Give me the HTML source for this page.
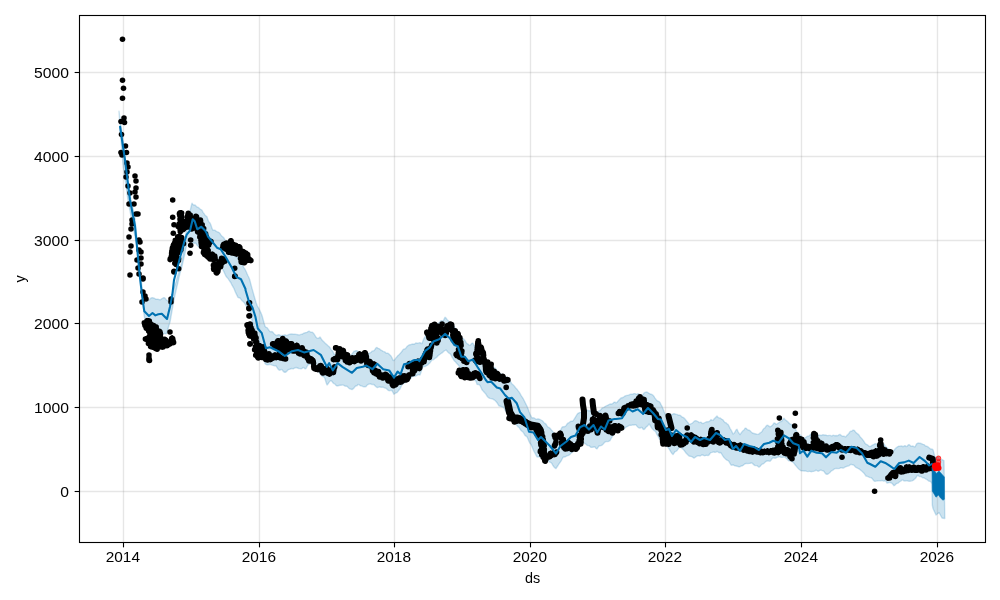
<!DOCTYPE html><html><head><meta charset="utf-8"><style>html,body{margin:0;padding:0;background:#fff;overflow:hidden}svg{display:block;will-change:transform}</style></head><body>
<svg width="1000" height="600" viewBox="0 0 1000 600" font-family="'Liberation Sans', sans-serif">
<rect width="1000" height="600" fill="#fff"/>
<polygon points="119.0,111.3 120.0,119.3 121.0,126.5 122.0,133.2 123.0,140.2 124.0,147.8 125.0,156.5 126.0,165.1 127.0,173.1 128.0,181.3 129.0,190.3 130.0,195.1 131.0,199.6 132.0,204.0 133.0,208.6 134.0,213.6 135.0,218.4 136.0,229.1 137.0,240.0 138.0,251.1 139.0,261.4 140.0,269.7 141.0,278.7 142.0,286.9 143.0,294.8 144.0,297.5 145.0,300.1 146.0,300.7 147.0,300.1 148.0,300.2 149.0,300.0 150.0,298.9 151.0,298.0 152.0,297.8 153.0,297.8 154.0,298.1 155.0,298.7 156.0,299.3 157.0,299.1 158.0,299.2 159.0,299.6 160.0,299.8 161.0,299.4 162.0,298.5 163.0,298.0 164.0,297.6 165.0,298.1 166.0,299.4 167.0,300.4 168.0,301.0 169.0,301.6 170.0,299.4 171.0,296.9 172.0,294.5 173.0,291.2 174.0,287.8 175.0,285.1 176.0,282.0 177.0,278.1 178.0,275.0 179.0,272.1 180.0,268.9 181.0,265.3 182.0,262.0 183.0,254.5 184.0,246.8 185.0,239.5 186.0,232.2 187.0,226.4 188.0,220.8 189.0,215.5 190.0,211.4 191.0,207.0 192.0,203.2 193.0,204.6 194.0,205.0 195.0,204.9 196.0,206.0 197.0,207.0 198.0,207.2 199.0,208.0 200.0,209.0 201.0,209.6 202.0,210.3 203.0,212.4 204.0,213.5 205.0,215.2 206.0,216.0 207.0,216.8 208.0,220.1 209.0,222.0 210.0,222.9 211.0,225.2 212.0,228.4 213.0,230.3 214.0,230.3 215.0,230.3 216.0,231.1 217.0,231.7 218.0,232.0 219.0,232.6 220.0,233.6 221.0,235.1 222.0,236.2 223.0,237.1 224.0,238.1 225.0,240.0 226.0,242.0 227.0,242.9 228.0,244.0 229.0,246.2 230.0,248.2 231.0,249.7 232.0,250.4 233.0,250.9 234.0,252.4 235.0,255.1 236.0,256.9 237.0,257.1 238.0,258.1 239.0,259.8 240.0,261.0 241.0,262.4 242.0,264.1 243.0,266.0 244.0,267.8 245.0,269.2 246.0,271.2 247.0,273.6 248.0,275.8 249.0,277.7 250.0,280.6 251.0,284.8 252.0,288.4 253.0,291.9 254.0,295.5 255.0,299.0 256.0,302.3 257.0,305.2 258.0,307.1 259.0,308.8 260.0,310.9 261.0,313.1 262.0,315.5 263.0,319.0 264.0,322.8 265.0,326.2 266.0,327.3 267.0,327.6 268.0,328.9 269.0,330.4 270.0,331.5 271.0,331.7 272.0,331.5 273.0,332.3 274.0,333.7 275.0,334.5 276.0,335.3 277.0,335.5 278.0,334.7 279.0,334.7 280.0,335.2 281.0,335.4 282.0,335.5 283.0,335.5 284.0,335.1 285.0,334.8 286.0,335.2 287.0,335.5 288.0,334.9 289.0,334.4 290.0,334.1 291.0,334.0 292.0,334.0 293.0,334.1 294.0,334.2 295.0,334.2 296.0,334.4 297.0,334.5 298.0,334.8 299.0,334.9 300.0,334.7 301.0,334.4 302.0,334.3 303.0,333.7 304.0,333.1 305.0,332.8 306.0,332.6 307.0,332.3 308.0,331.6 309.0,331.2 310.0,331.7 311.0,332.4 312.0,332.1 313.0,332.8 314.0,333.9 315.0,335.5 316.0,337.2 317.0,338.1 318.0,338.4 319.0,338.0 320.0,337.0 321.0,338.5 322.0,340.1 323.0,341.0 324.0,341.9 325.0,343.0 326.0,343.9 327.0,344.7 328.0,345.7 329.0,346.5 330.0,347.7 331.0,349.4 332.0,350.5 333.0,351.8 334.0,354.1 335.0,354.8 336.0,354.3 337.0,353.6 338.0,353.4 339.0,353.1 340.0,353.0 341.0,352.5 342.0,351.9 343.0,352.0 344.0,352.3 345.0,352.3 346.0,352.4 347.0,352.7 348.0,353.6 349.0,355.1 350.0,355.8 351.0,355.1 352.0,354.1 353.0,352.6 354.0,351.2 355.0,351.0 356.0,350.6 357.0,350.8 358.0,351.6 359.0,352.1 360.0,351.9 361.0,352.2 362.0,353.2 363.0,354.0 364.0,354.8 365.0,355.4 366.0,355.1 367.0,354.0 368.0,353.6 369.0,353.4 370.0,352.9 371.0,352.2 372.0,351.2 373.0,350.9 374.0,350.6 375.0,349.3 376.0,347.8 377.0,347.4 378.0,348.3 379.0,348.6 380.0,349.3 381.0,350.2 382.0,350.6 383.0,351.4 384.0,351.7 385.0,352.0 386.0,353.1 387.0,353.3 388.0,353.2 389.0,354.0 390.0,355.1 391.0,356.0 392.0,357.9 393.0,360.2 394.0,360.6 395.0,359.2 396.0,357.9 397.0,356.7 398.0,355.5 399.0,354.7 400.0,353.6 401.0,352.5 402.0,351.3 403.0,349.7 404.0,349.0 405.0,348.9 406.0,347.9 407.0,346.6 408.0,345.7 409.0,345.0 410.0,344.7 411.0,344.5 412.0,344.2 413.0,344.0 414.0,344.3 415.0,343.7 416.0,342.9 417.0,343.1 418.0,343.2 419.0,342.9 420.0,342.6 421.0,343.5 422.0,343.5 423.0,340.7 424.0,338.4 425.0,336.8 426.0,334.7 427.0,332.6 428.0,331.6 429.0,331.1 430.0,330.4 431.0,329.2 432.0,328.0 433.0,327.6 434.0,327.5 435.0,325.6 436.0,324.1 437.0,323.7 438.0,323.3 439.0,322.9 440.0,321.8 441.0,320.8 442.0,320.8 443.0,321.1 444.0,319.4 445.0,317.2 446.0,318.0 447.0,319.4 448.0,320.5 449.0,321.7 450.0,323.0 451.0,324.0 452.0,324.6 453.0,325.3 454.0,326.1 455.0,327.8 456.0,329.8 457.0,331.0 458.0,332.4 459.0,334.3 460.0,335.7 461.0,336.5 462.0,337.5 463.0,338.6 464.0,339.4 465.0,340.5 466.0,342.3 467.0,343.6 468.0,344.1 469.0,345.1 470.0,345.4 471.0,344.2 472.0,343.1 473.0,343.3 474.0,345.4 475.0,347.1 476.0,348.3 477.0,349.1 478.0,349.6 479.0,351.2 480.0,354.1 481.0,356.7 482.0,357.9 483.0,358.7 484.0,359.2 485.0,360.0 486.0,361.3 487.0,362.5 488.0,363.3 489.0,364.1 490.0,364.6 491.0,365.3 492.0,366.1 493.0,367.0 494.0,367.4 495.0,367.9 496.0,369.2 497.0,370.8 498.0,371.7 499.0,372.7 500.0,373.4 501.0,373.8 502.0,374.3 503.0,375.3 504.0,376.2 505.0,376.6 506.0,376.6 507.0,377.3 508.0,379.3 509.0,380.5 510.0,380.9 511.0,382.3 512.0,384.0 513.0,384.8 514.0,385.7 515.0,387.0 516.0,388.3 517.0,389.2 518.0,390.6 519.0,391.9 520.0,393.4 521.0,395.3 522.0,396.8 523.0,398.3 524.0,400.2 525.0,402.3 526.0,404.3 527.0,406.3 528.0,408.6 529.0,411.5 530.0,414.1 531.0,416.2 532.0,418.0 533.0,417.8 534.0,417.9 535.0,418.5 536.0,419.2 537.0,419.1 538.0,418.8 539.0,419.1 540.0,419.5 541.0,420.0 542.0,420.5 543.0,421.3 544.0,422.7 545.0,423.4 546.0,424.1 547.0,425.9 548.0,427.1 549.0,427.4 550.0,428.3 551.0,429.5 552.0,430.6 553.0,432.0 554.0,433.6 555.0,435.9 556.0,437.3 557.0,435.2 558.0,433.3 559.0,431.6 560.0,430.7 561.0,429.4 562.0,427.3 563.0,426.7 564.0,426.7 565.0,426.5 566.0,425.7 567.0,424.1 568.0,423.1 569.0,422.7 570.0,421.8 571.0,421.2 572.0,421.3 573.0,420.8 574.0,419.4 575.0,417.8 576.0,416.2 577.0,414.5 578.0,413.3 579.0,412.8 580.0,412.5 581.0,412.2 582.0,411.3 583.0,410.3 584.0,409.7 585.0,410.6 586.0,411.0 587.0,410.3 588.0,410.5 589.0,410.7 590.0,410.7 591.0,411.8 592.0,412.7 593.0,412.6 594.0,412.8 595.0,413.0 596.0,412.0 597.0,411.9 598.0,411.7 599.0,410.9 600.0,410.5 601.0,409.5 602.0,408.2 603.0,407.7 604.0,407.3 605.0,406.6 606.0,406.0 607.0,405.5 608.0,405.1 609.0,404.5 610.0,404.0 611.0,403.9 612.0,404.0 613.0,403.3 614.0,402.3 615.0,402.1 616.0,402.9 617.0,402.3 618.0,401.1 619.0,400.1 620.0,399.0 621.0,398.0 622.0,397.7 623.0,397.5 624.0,396.8 625.0,396.0 626.0,395.7 627.0,395.4 628.0,395.2 629.0,394.9 630.0,394.4 631.0,394.1 632.0,394.1 633.0,394.0 634.0,393.6 635.0,393.6 636.0,394.1 637.0,394.0 638.0,393.7 639.0,394.0 640.0,394.9 641.0,395.8 642.0,395.7 643.0,394.5 644.0,393.0 645.0,392.4 646.0,392.1 647.0,392.0 648.0,392.7 649.0,393.3 650.0,393.8 651.0,394.3 652.0,394.5 653.0,395.2 654.0,396.5 655.0,398.1 656.0,399.4 657.0,400.6 658.0,401.3 659.0,401.5 660.0,402.5 661.0,404.6 662.0,406.3 663.0,408.7 664.0,411.6 665.0,414.0 666.0,413.9 667.0,413.6 668.0,413.8 669.0,414.2 670.0,414.2 671.0,414.4 672.0,414.6 673.0,414.0 674.0,413.6 675.0,414.0 676.0,414.4 677.0,414.4 678.0,415.0 679.0,415.3 680.0,415.2 681.0,416.0 682.0,417.0 683.0,417.3 684.0,417.9 685.0,418.9 686.0,420.3 687.0,421.5 688.0,422.6 689.0,424.3 690.0,424.4 691.0,423.7 692.0,423.3 693.0,422.5 694.0,421.4 695.0,420.8 696.0,420.7 697.0,421.2 698.0,421.6 699.0,422.5 700.0,422.4 701.0,422.1 702.0,423.2 703.0,423.6 704.0,423.0 705.0,422.5 706.0,422.0 707.0,421.7 708.0,421.7 709.0,421.6 710.0,420.7 711.0,419.6 712.0,420.4 713.0,420.4 714.0,419.0 715.0,418.0 716.0,417.0 717.0,416.0 718.0,417.2 719.0,417.9 720.0,417.9 721.0,418.7 722.0,419.3 723.0,419.8 724.0,421.6 725.0,422.6 726.0,422.8 727.0,423.8 728.0,424.4 729.0,426.1 730.0,428.3 731.0,429.9 732.0,431.7 733.0,434.0 734.0,433.4 735.0,431.9 736.0,430.0 737.0,429.2 738.0,431.6 739.0,433.2 740.0,434.6 741.0,433.2 742.0,431.8 743.0,430.8 744.0,430.0 745.0,428.3 746.0,428.1 747.0,429.3 748.0,430.0 749.0,430.1 750.0,430.7 751.0,431.8 752.0,432.7 753.0,433.3 754.0,433.5 755.0,433.7 756.0,434.0 757.0,434.4 758.0,434.4 759.0,433.9 760.0,432.9 761.0,432.4 762.0,431.5 763.0,429.6 764.0,428.4 765.0,427.9 766.0,426.2 767.0,425.3 768.0,425.4 769.0,426.2 770.0,426.8 771.0,426.3 772.0,425.6 773.0,424.5 774.0,423.0 775.0,423.1 776.0,424.2 777.0,424.1 778.0,423.2 779.0,422.5 780.0,421.7 781.0,421.6 782.0,421.0 783.0,419.2 784.0,418.2 785.0,419.4 786.0,420.3 787.0,421.1 788.0,421.9 789.0,423.1 790.0,423.9 791.0,424.3 792.0,425.1 793.0,425.9 794.0,426.8 795.0,428.4 796.0,430.4 797.0,431.8 798.0,433.3 799.0,434.6 800.0,434.9 801.0,435.5 802.0,437.3 803.0,438.4 804.0,438.2 805.0,438.0 806.0,437.3 807.0,436.4 808.0,436.1 809.0,435.9 810.0,435.0 811.0,433.8 812.0,433.6 813.0,433.8 814.0,434.3 815.0,434.4 816.0,434.1 817.0,434.7 818.0,435.5 819.0,435.1 820.0,435.0 821.0,435.6 822.0,435.1 823.0,434.7 824.0,435.0 825.0,434.9 826.0,435.1 827.0,435.6 828.0,435.6 829.0,435.4 830.0,435.4 831.0,435.7 832.0,435.9 833.0,435.3 834.0,435.4 835.0,435.8 836.0,435.5 837.0,435.7 838.0,435.6 839.0,434.7 840.0,434.4 841.0,435.2 842.0,436.0 843.0,436.1 844.0,436.2 845.0,436.7 846.0,436.7 847.0,435.2 848.0,434.4 849.0,433.3 850.0,431.7 851.0,431.2 852.0,431.0 853.0,430.1 854.0,430.1 855.0,431.3 856.0,432.6 857.0,433.4 858.0,434.1 859.0,435.1 860.0,436.7 861.0,437.8 862.0,438.8 863.0,440.1 864.0,441.5 865.0,443.3 866.0,444.2 867.0,444.6 868.0,445.3 869.0,446.3 870.0,446.5 871.0,446.1 872.0,445.4 873.0,444.8 874.0,444.4 875.0,443.8 876.0,443.7 877.0,444.4 878.0,444.3 879.0,444.5 880.0,445.3 881.0,445.4 882.0,445.0 883.0,444.7 884.0,444.0 885.0,445.7 886.0,447.0 887.0,447.7 888.0,448.6 889.0,449.0 890.0,449.9 891.0,451.3 892.0,452.5 893.0,451.6 894.0,450.3 895.0,448.9 896.0,447.9 897.0,447.2 898.0,446.6 899.0,446.1 900.0,446.4 901.0,445.9 902.0,446.0 903.0,446.8 904.0,446.1 905.0,445.6 906.0,446.5 907.0,446.4 908.0,445.1 909.0,444.5 910.0,445.3 911.0,446.3 912.0,446.2 913.0,446.0 914.0,446.7 915.0,446.8 916.0,445.0 917.0,443.5 918.0,443.0 919.0,443.2 920.0,443.3 921.0,443.5 922.0,443.9 923.0,444.3 924.0,444.6 925.0,445.6 926.0,446.1 927.0,446.2 928.0,446.9 929.0,447.7 930.0,448.6 931.0,449.1 932.0,449.0 933.0,449.7 934.0,453.5 935.0,457.3 936.0,458.1 937.0,457.3 938.0,456.8 939.0,458.2 940.0,459.8 941.0,459.8 942.0,459.6 943.0,460.1 944.0,460.8 944.8,518.5 942.0,518.0 939.0,512.5 936.0,515.0 933.0,508.5 932.3,505.0 932.0,484.0 931.0,481.9 930.0,481.3 929.0,481.2 928.0,480.5 927.0,479.6 926.0,479.1 925.0,478.5 924.0,477.9 923.0,477.8 922.0,477.3 921.0,476.5 920.0,476.6 919.0,476.3 918.0,475.3 917.0,475.9 916.0,477.7 915.0,478.8 914.0,479.6 913.0,480.4 912.0,480.8 911.0,481.1 910.0,481.2 909.0,481.2 908.0,481.1 907.0,480.7 906.0,480.6 905.0,481.1 904.0,480.9 903.0,480.1 902.0,480.1 901.0,481.0 900.0,481.5 899.0,482.3 898.0,483.1 897.0,483.4 896.0,483.9 895.0,485.2 894.0,485.7 893.0,484.5 892.0,483.3 891.0,482.9 890.0,482.5 889.0,482.4 888.0,483.0 887.0,483.0 886.0,481.6 885.0,480.7 884.0,481.2 883.0,480.9 882.0,480.4 881.0,480.8 880.0,480.8 879.0,480.6 878.0,480.7 877.0,481.0 876.0,481.1 875.0,481.4 874.0,480.9 873.0,479.7 872.0,478.4 871.0,477.6 870.0,477.5 869.0,477.2 868.0,476.6 867.0,476.3 866.0,476.1 865.0,474.6 864.0,473.2 863.0,472.2 862.0,471.2 861.0,470.5 860.0,469.6 859.0,468.9 858.0,468.4 857.0,467.8 856.0,467.4 855.0,466.5 854.0,465.3 853.0,464.8 852.0,464.7 851.0,464.3 850.0,464.9 849.0,465.8 848.0,466.1 847.0,466.3 846.0,466.7 845.0,467.1 844.0,467.8 843.0,468.2 842.0,467.8 841.0,467.7 840.0,468.2 839.0,468.5 838.0,468.6 837.0,468.5 836.0,468.5 835.0,468.6 834.0,469.2 833.0,470.1 832.0,470.6 831.0,471.3 830.0,472.4 829.0,473.3 828.0,474.0 827.0,474.4 826.0,474.0 825.0,473.0 824.0,471.4 823.0,470.7 822.0,470.6 821.0,470.1 820.0,470.2 819.0,470.9 818.0,471.3 817.0,470.6 816.0,470.2 815.0,470.8 814.0,471.2 813.0,471.4 812.0,471.5 811.0,471.7 810.0,471.4 809.0,471.3 808.0,471.6 807.0,471.4 806.0,471.1 805.0,470.9 804.0,471.0 803.0,470.9 802.0,470.8 801.0,470.7 800.0,470.0 799.0,469.2 798.0,468.3 797.0,467.1 796.0,465.9 795.0,464.7 794.0,463.3 793.0,462.3 792.0,461.7 791.0,461.1 790.0,460.9 789.0,460.9 788.0,460.1 787.0,458.9 786.0,458.1 785.0,457.3 784.0,456.9 783.0,457.2 782.0,457.4 781.0,457.4 780.0,456.8 779.0,456.9 778.0,457.1 777.0,457.4 776.0,458.0 775.0,458.2 774.0,458.0 773.0,457.9 772.0,458.7 771.0,460.3 770.0,461.3 769.0,461.1 768.0,460.9 767.0,461.0 766.0,461.4 765.0,462.2 764.0,463.2 763.0,463.9 762.0,464.2 761.0,465.2 760.0,466.5 759.0,467.2 758.0,466.5 757.0,465.6 756.0,465.6 755.0,465.6 754.0,464.9 753.0,463.9 752.0,463.1 751.0,463.0 750.0,463.4 749.0,463.4 748.0,463.6 747.0,463.5 746.0,463.4 745.0,463.9 744.0,464.5 743.0,465.4 742.0,466.0 741.0,466.0 740.0,466.7 739.0,466.9 738.0,466.5 737.0,466.2 736.0,466.0 735.0,465.9 734.0,465.4 733.0,464.6 732.0,465.3 731.0,465.0 730.0,463.3 729.0,461.6 728.0,460.6 727.0,460.2 726.0,459.4 725.0,458.5 724.0,457.5 723.0,456.2 722.0,454.5 721.0,452.9 720.0,452.5 719.0,452.7 718.0,452.0 717.0,451.3 716.0,452.1 715.0,452.4 714.0,452.0 713.0,452.1 712.0,452.4 711.0,452.6 710.0,453.5 709.0,455.0 708.0,455.6 707.0,455.3 706.0,455.4 705.0,455.7 704.0,455.5 703.0,455.2 702.0,454.9 701.0,455.5 700.0,456.1 699.0,455.9 698.0,455.9 697.0,456.1 696.0,456.7 695.0,457.5 694.0,458.1 693.0,457.4 692.0,456.7 691.0,456.4 690.0,456.3 689.0,456.0 688.0,455.1 687.0,454.0 686.0,453.1 685.0,451.7 684.0,450.2 683.0,449.3 682.0,448.5 681.0,447.1 680.0,446.6 679.0,447.8 678.0,449.2 677.0,450.6 676.0,451.3 675.0,451.7 674.0,453.2 673.0,454.6 672.0,453.5 671.0,452.2 670.0,450.4 669.0,448.7 668.0,447.5 667.0,445.8 666.0,444.1 665.0,443.2 664.0,443.0 663.0,442.2 662.0,440.6 661.0,439.9 660.0,439.8 659.0,438.1 658.0,436.2 657.0,434.7 656.0,432.4 655.0,431.0 654.0,430.6 653.0,429.4 652.0,428.4 651.0,426.9 650.0,425.1 649.0,424.1 648.0,425.4 647.0,426.4 646.0,427.2 645.0,428.7 644.0,429.6 643.0,429.2 642.0,427.4 641.0,427.5 640.0,428.2 639.0,427.9 638.0,427.2 637.0,426.2 636.0,424.9 635.0,424.7 634.0,425.1 633.0,424.9 632.0,425.1 631.0,425.4 630.0,425.2 629.0,425.5 628.0,426.2 627.0,426.7 626.0,427.2 625.0,428.0 624.0,428.9 623.0,429.0 622.0,428.7 621.0,429.3 620.0,430.5 619.0,431.3 618.0,431.6 617.0,431.7 616.0,432.3 615.0,433.2 614.0,433.8 613.0,435.3 612.0,437.1 611.0,438.7 610.0,440.6 609.0,441.2 608.0,441.5 607.0,441.6 606.0,441.5 605.0,442.1 604.0,443.1 603.0,444.3 602.0,445.2 601.0,445.6 600.0,445.8 599.0,446.0 598.0,447.4 597.0,448.9 596.0,448.4 595.0,447.0 594.0,446.9 593.0,447.2 592.0,447.3 591.0,447.4 590.0,446.4 589.0,445.6 588.0,445.6 587.0,445.2 586.0,444.2 585.0,443.6 584.0,443.0 583.0,442.9 582.0,444.5 581.0,445.1 580.0,445.7 579.0,447.3 578.0,448.7 577.0,449.0 576.0,449.1 575.0,449.5 574.0,450.4 573.0,451.6 572.0,452.4 571.0,453.3 570.0,454.4 569.0,455.2 568.0,455.5 567.0,455.7 566.0,456.4 565.0,457.0 564.0,456.9 563.0,457.4 562.0,459.3 561.0,461.2 560.0,462.5 559.0,463.9 558.0,465.5 557.0,467.0 556.0,468.6 555.0,467.9 554.0,467.0 553.0,465.7 552.0,463.8 551.0,462.6 550.0,462.2 549.0,461.8 548.0,460.6 547.0,459.5 546.0,459.4 545.0,459.7 544.0,459.6 543.0,459.0 542.0,458.5 541.0,458.0 540.0,457.2 539.0,456.7 538.0,457.1 537.0,456.9 536.0,455.1 535.0,453.1 534.0,451.5 533.0,449.2 532.0,446.6 531.0,444.5 530.0,443.3 529.0,441.5 528.0,439.1 527.0,436.8 526.0,436.1 525.0,435.4 524.0,433.6 523.0,432.1 522.0,431.2 521.0,430.4 520.0,429.0 519.0,427.4 518.0,426.8 517.0,425.5 516.0,424.1 515.0,423.0 514.0,421.6 513.0,420.6 512.0,419.6 511.0,418.2 510.0,416.5 509.0,414.9 508.0,413.6 507.0,412.3 506.0,411.4 505.0,409.9 504.0,407.8 503.0,407.2 502.0,406.9 501.0,406.2 500.0,406.2 499.0,405.9 498.0,404.3 497.0,402.7 496.0,401.5 495.0,400.5 494.0,399.8 493.0,399.2 492.0,398.8 491.0,398.6 490.0,398.4 489.0,398.0 488.0,397.3 487.0,396.0 486.0,394.3 485.0,393.1 484.0,392.0 483.0,390.9 482.0,389.7 481.0,387.5 480.0,385.4 479.0,384.5 478.0,384.5 477.0,384.4 476.0,381.2 475.0,380.6 474.0,379.3 473.0,378.2 472.0,377.4 471.0,376.5 470.0,375.5 469.0,374.8 468.0,374.0 467.0,373.4 466.0,372.4 465.0,371.2 464.0,370.0 463.0,369.4 462.0,368.6 461.0,367.6 460.0,367.1 459.0,366.1 458.0,364.7 457.0,363.8 456.0,362.5 455.0,361.4 454.0,360.5 453.0,358.7 452.0,357.1 451.0,355.0 450.0,353.7 449.0,353.1 448.0,352.3 447.0,351.0 446.0,350.0 445.0,350.5 444.0,351.1 443.0,352.1 442.0,352.9 441.0,353.5 440.0,354.3 439.0,355.0 438.0,355.8 437.0,357.0 436.0,357.8 435.0,358.3 434.0,359.3 433.0,359.8 432.0,360.1 431.0,361.4 430.0,362.8 429.0,363.8 428.0,364.8 427.0,365.4 426.0,366.0 425.0,366.6 424.0,366.4 423.0,366.7 422.0,368.7 421.0,372.2 420.0,375.1 419.0,374.7 418.0,374.7 417.0,375.4 416.0,375.9 415.0,376.3 414.0,376.3 413.0,376.0 412.0,376.8 411.0,378.2 410.0,379.0 409.0,379.3 408.0,379.6 407.0,380.4 406.0,381.7 405.0,382.9 404.0,383.2 403.0,383.7 402.0,384.7 401.0,386.8 400.0,389.1 399.0,390.0 398.0,391.4 397.0,392.5 396.0,392.9 395.0,393.5 394.0,394.3 393.0,392.5 392.0,390.7 391.0,390.3 390.0,390.6 389.0,390.7 388.0,390.2 387.0,389.1 386.0,388.3 385.0,388.1 384.0,387.7 383.0,387.1 382.0,387.2 381.0,387.2 380.0,387.0 379.0,387.0 378.0,387.5 377.0,387.5 376.0,386.8 375.0,385.8 374.0,384.7 373.0,384.3 372.0,384.6 371.0,384.0 370.0,383.8 369.0,384.1 368.0,384.5 367.0,385.3 366.0,386.5 365.0,386.8 364.0,386.8 363.0,386.6 362.0,386.1 361.0,385.9 360.0,385.5 359.0,384.6 358.0,384.5 357.0,385.7 356.0,385.9 355.0,386.6 354.0,388.0 353.0,388.9 352.0,389.6 351.0,389.2 350.0,388.9 349.0,388.3 348.0,387.3 347.0,386.2 346.0,386.2 345.0,386.1 344.0,385.4 343.0,385.1 342.0,385.1 341.0,385.3 340.0,385.3 339.0,385.5 338.0,385.7 337.0,386.0 336.0,385.4 335.0,384.1 334.0,383.6 333.0,382.9 332.0,381.4 331.0,380.7 330.0,381.1 329.0,382.4 328.0,384.0 327.0,384.9 326.0,382.3 325.0,378.7 324.0,377.0 323.0,376.7 322.0,375.9 321.0,375.2 320.0,373.7 319.0,371.9 318.0,371.5 317.0,371.6 316.0,370.5 315.0,369.3 314.0,368.5 313.0,367.5 312.0,365.7 311.0,364.3 310.0,364.1 309.0,364.6 308.0,364.9 307.0,366.6 306.0,368.5 305.0,368.9 304.0,367.8 303.0,367.4 302.0,368.5 301.0,368.8 300.0,368.6 299.0,368.5 298.0,368.3 297.0,367.7 296.0,367.5 295.0,367.8 294.0,368.4 293.0,369.0 292.0,368.5 291.0,368.7 290.0,369.2 289.0,369.4 288.0,369.9 287.0,371.1 286.0,372.0 285.0,372.4 284.0,372.0 283.0,371.0 282.0,369.6 281.0,369.5 280.0,370.2 279.0,370.1 278.0,369.1 277.0,367.4 276.0,366.0 275.0,365.6 274.0,365.7 273.0,365.4 272.0,365.1 271.0,364.6 270.0,364.3 269.0,364.5 268.0,364.8 267.0,364.8 266.0,364.4 265.0,363.4 264.0,359.9 263.0,355.2 262.0,351.2 261.0,348.0 260.0,344.6 259.0,341.0 258.0,337.9 257.0,335.3 256.0,332.4 255.0,329.1 254.0,326.4 253.0,323.7 252.0,320.4 251.0,315.5 250.0,310.6 249.0,309.0 248.0,308.0 247.0,307.1 246.0,305.7 245.0,304.0 244.0,302.4 243.0,301.4 242.0,300.7 241.0,299.3 240.0,298.0 239.0,297.8 238.0,297.4 237.0,295.4 236.0,293.4 235.0,291.2 234.0,288.6 233.0,286.8 232.0,285.2 231.0,283.0 230.0,281.5 229.0,280.1 228.0,278.5 227.0,277.5 226.0,276.3 225.0,274.3 224.0,271.9 223.0,270.0 222.0,268.4 221.0,266.6 220.0,265.1 219.0,264.7 218.0,264.7 217.0,263.7 216.0,261.9 215.0,260.6 214.0,260.2 213.0,259.8 212.0,258.9 211.0,257.8 210.0,256.8 209.0,256.1 208.0,255.4 207.0,254.6 206.0,253.4 205.0,252.6 204.0,251.9 203.0,250.9 202.0,249.7 201.0,248.4 200.0,247.6 199.0,246.8 198.0,246.0 197.0,245.2 196.0,243.4 195.0,243.0 194.0,243.3 193.0,242.7 192.0,241.7 191.0,241.9 190.0,241.6 189.0,240.4 188.0,239.3 187.0,243.0 186.0,247.9 185.0,253.2 184.0,257.6 183.0,261.9 182.0,266.3 181.0,269.8 180.0,273.3 179.0,277.6 178.0,282.2 177.0,286.4 176.0,290.6 175.0,295.1 174.0,300.1 173.0,305.4 172.0,310.9 171.0,316.6 170.0,322.1 169.0,325.2 168.0,328.7 167.0,332.6 166.0,333.9 165.0,333.5 164.0,333.6 163.0,333.6 162.0,333.6 161.0,333.9 160.0,333.8 159.0,333.6 158.0,333.8 157.0,334.3 156.0,334.5 155.0,334.1 154.0,333.4 153.0,333.1 152.0,333.4 151.0,333.3 150.0,333.1 149.0,332.7 148.0,329.2 147.0,326.1 146.0,322.7 145.0,320.1 144.0,314.5 143.0,301.9 142.0,289.9 141.0,280.3 140.0,270.6 139.0,261.1 138.0,250.9 137.0,245.6 136.0,240.9 135.0,236.7 134.0,231.8 133.0,226.9 132.0,222.1 131.0,216.5 130.0,210.9 129.0,205.8 128.0,200.6 127.0,193.0 126.0,185.4 125.0,178.5 124.0,172.0 123.0,165.0 122.0,152.4 121.0,140.1" fill="#0072B2" fill-opacity="0.2" stroke="#0072B2" stroke-opacity="0.2" stroke-width="1.39" stroke-linejoin="round"/>
<g stroke="#808080" stroke-opacity="0.2" stroke-width="1.39"><line x1="123.5" y1="15.5" x2="123.5" y2="542.5"/><line x1="259.5" y1="15.5" x2="259.5" y2="542.5"/><line x1="394.5" y1="15.5" x2="394.5" y2="542.5"/><line x1="530.5" y1="15.5" x2="530.5" y2="542.5"/><line x1="665.5" y1="15.5" x2="665.5" y2="542.5"/><line x1="801.5" y1="15.5" x2="801.5" y2="542.5"/><line x1="937.5" y1="15.5" x2="937.5" y2="542.5"/><line x1="79.5" y1="491.50" x2="985.5" y2="491.50"/><line x1="79.5" y1="407.50" x2="985.5" y2="407.50"/><line x1="79.5" y1="323.50" x2="985.5" y2="323.50"/><line x1="79.5" y1="240.50" x2="985.5" y2="240.50"/><line x1="79.5" y1="156.50" x2="985.5" y2="156.50"/><line x1="79.5" y1="72.50" x2="985.5" y2="72.50"/></g>
<path d="M144.3 322.7h0M144.5 322.8h0M144.7 323.9h0M144.9 324.9h0M145.0 325.6h0M145.2 324.6h0M145.4 324.0h0M145.4 339.0h0M145.6 324.5h0M145.6 339.1h0M145.8 326.6h0M145.8 339.2h0M146.0 327.3h0M146.0 339.2h0M146.2 328.1h0M146.2 339.2h0M146.3 328.2h0M146.3 339.4h0M146.5 327.5h0M146.5 339.5h0M146.7 323.6h0M146.7 339.5h0M146.9 321.0h0M146.9 339.3h0M147.1 320.7h0M147.1 339.0h0M147.3 320.7h0M147.3 338.8h0M147.5 320.7h0M147.5 338.8h0M147.6 320.7h0M147.6 338.3h0M147.8 320.8h0M147.8 338.1h0M148.0 321.7h0M148.0 327.0h0M148.2 323.3h0M148.2 327.7h0M148.4 326.2h0M148.4 343.6h0M148.6 331.0h0M148.6 325.9h0M148.8 337.6h0M148.8 339.8h0M148.9 340.6h0M148.9 323.8h0M149.1 340.9h0M149.1 330.6h0M149.3 339.9h0M149.3 321.0h0M149.5 337.9h0M149.5 323.1h0M149.7 336.4h0M149.7 322.9h0M149.9 333.4h0M149.9 342.4h0M150.1 333.0h0M150.1 324.3h0M150.2 335.0h0M150.2 335.4h0M150.4 334.5h0M150.4 323.7h0M150.6 332.0h0M150.6 346.6h0M150.8 329.4h0M150.8 336.1h0M151.0 325.7h0M151.0 344.2h0M151.2 324.6h0M151.2 326.9h0M151.4 325.4h0M151.4 342.4h0M151.5 326.5h0M151.5 343.0h0M151.7 326.5h0M151.7 338.9h0M151.9 327.7h0M151.9 336.9h0M152.1 331.5h0M152.1 336.8h0M152.3 335.7h0M152.3 327.7h0M152.5 343.3h0M152.5 343.8h0M152.7 346.7h0M152.7 331.2h0M152.8 347.2h0M152.8 346.4h0M153.0 347.1h0M153.0 346.2h0M153.2 346.6h0M153.2 345.0h0M153.4 345.1h0M153.4 344.5h0M153.6 339.7h0M153.6 325.6h0M153.8 332.3h0M153.8 328.7h0M154.0 330.3h0M154.0 335.5h0M154.1 330.0h0M154.1 328.9h0M154.3 328.6h0M154.3 336.0h0M154.5 328.5h0M154.5 338.8h0M154.7 329.7h0M154.7 333.8h0M154.9 332.9h0M154.9 347.9h0M155.1 336.2h0M155.1 347.9h0M155.3 338.5h0M155.3 338.2h0M155.4 339.6h0M155.4 339.9h0M155.6 341.6h0M155.6 348.6h0M155.8 343.4h0M155.8 326.7h0M156.0 345.9h0M156.0 337.5h0M156.2 347.8h0M156.2 327.1h0M156.4 348.4h0M156.4 328.7h0M156.6 348.6h0M156.6 334.6h0M156.7 348.8h0M156.7 334.0h0M156.9 349.1h0M156.9 344.8h0M157.1 349.2h0M157.1 344.2h0M157.3 348.5h0M157.5 347.9h0M157.7 347.8h0M157.9 347.0h0M158.0 344.2h0M158.2 339.9h0M158.4 340.5h0M158.6 341.9h0M158.8 337.0h0M159.0 332.3h0M159.2 331.7h0M159.3 331.4h0M159.5 331.5h0M159.7 331.5h0M159.9 331.9h0M160.1 332.6h0M160.3 333.0h0M160.5 334.2h0M160.6 337.2h0M160.8 342.4h0M161.0 345.9h0M161.2 346.7h0M161.4 346.9h0M161.6 346.9h0M161.8 346.6h0M161.9 344.7h0M162.1 343.5h0M162.3 346.3h0M162.5 347.1h0M162.7 346.9h0M162.9 346.8h0M163.1 346.9h0M163.2 346.6h0M163.4 344.9h0M163.6 343.1h0M163.8 342.5h0M164.0 340.8h0M164.2 339.5h0M164.4 339.7h0M164.5 339.7h0M164.7 339.2h0M164.9 339.6h0M165.1 340.7h0M165.3 341.4h0M165.5 340.1h0M165.7 340.1h0M165.8 341.9h0M166.0 342.4h0M166.2 343.0h0M166.4 344.9h0M166.6 345.5h0M166.8 345.6h0M167.0 345.7h0M167.1 345.5h0M167.3 345.4h0M167.5 345.1h0M167.7 345.0h0M167.9 345.0h0M168.1 344.8h0M168.3 344.7h0M168.4 344.1h0M168.6 342.7h0M168.8 341.8h0M169.0 342.7h0M169.2 344.0h0M169.4 344.2h0M169.6 343.9h0M169.7 343.6h0M169.9 343.7h0M170.1 259.6h0M170.1 343.8h0M170.3 258.9h0M170.3 343.8h0M170.5 258.9h0M170.5 343.6h0M170.7 258.2h0M170.7 343.1h0M170.9 258.4h0M170.9 342.6h0M171.0 258.4h0M171.0 342.5h0M171.2 258.2h0M171.2 342.2h0M171.4 256.1h0M171.4 340.4h0M171.6 253.2h0M171.6 338.8h0M171.8 251.4h0M171.8 338.3h0M172.0 251.2h0M172.0 338.2h0M172.2 250.0h0M172.2 338.4h0M172.3 248.5h0M172.3 338.3h0M172.5 247.9h0M172.5 338.6h0M172.7 248.4h0M172.7 338.7h0M172.9 248.1h0M172.9 339.8h0M173.1 246.8h0M173.1 341.2h0M173.3 245.5h0M173.3 342.0h0M173.5 245.3h0M173.5 342.0h0M173.6 244.9h0M173.6 342.6h0M173.8 245.4h0M174.0 245.3h0M174.2 244.8h0M174.4 243.6h0M174.4 243.5h0M174.6 243.1h0M174.6 246.3h0M174.8 243.7h0M174.8 263.3h0M174.9 247.4h0M174.9 243.6h0M175.1 252.5h0M175.1 259.4h0M175.3 255.7h0M175.3 240.4h0M175.5 256.0h0M175.5 246.7h0M175.7 255.0h0M175.7 242.3h0M175.9 257.1h0M175.9 243.4h0M176.1 259.3h0M176.1 264.4h0M176.2 259.0h0M176.2 258.3h0M176.4 258.1h0M176.4 249.0h0M176.6 260.0h0M176.6 250.6h0M176.8 260.6h0M176.8 257.1h0M177.0 259.7h0M177.0 260.3h0M177.2 260.3h0M177.2 240.4h0M177.4 260.4h0M177.4 259.8h0M177.5 259.3h0M177.5 258.6h0M177.7 259.4h0M177.7 236.7h0M177.9 260.0h0M177.9 253.0h0M178.1 226.6h0M178.1 260.7h0M178.1 247.4h0M178.3 226.5h0M178.3 260.6h0M178.3 244.4h0M178.5 226.5h0M178.5 260.6h0M178.5 247.1h0M178.7 226.7h0M178.7 258.8h0M178.7 245.2h0M178.8 226.7h0M178.8 252.4h0M178.8 243.7h0M179.0 224.9h0M179.0 242.7h0M179.0 238.9h0M179.2 223.8h0M179.2 238.3h0M179.2 237.6h0M179.4 213.7h0M179.4 236.9h0M179.4 238.2h0M179.6 213.3h0M179.6 236.5h0M179.6 252.1h0M179.8 214.3h0M179.8 215.6h0M179.8 244.5h0M180.0 214.4h0M180.0 219.2h0M180.0 213.6h0M180.1 215.3h0M180.1 212.7h0M180.1 229.7h0M180.3 217.4h0M180.3 243.4h0M180.3 231.7h0M180.5 218.4h0M180.5 245.2h0M180.7 219.1h0M180.7 245.5h0M180.9 220.0h0M180.9 249.8h0M181.1 218.5h0M181.1 220.3h0M181.3 214.1h0M181.3 247.2h0M181.4 213.0h0M181.4 226.8h0M181.6 213.1h0M181.6 237.6h0M181.8 216.7h0M181.8 223.7h0M182.0 220.5h0M182.0 241.0h0M182.2 225.5h0M182.2 243.4h0M182.4 227.4h0M182.4 243.9h0M182.6 229.0h0M182.6 244.0h0M182.7 229.8h0M182.7 244.1h0M182.9 229.8h0M182.9 243.2h0M183.1 229.6h0M183.1 243.4h0M183.3 229.3h0M183.3 243.8h0M183.5 229.2h0M183.5 243.8h0M183.7 228.9h0M183.9 228.5h0M184.0 227.9h0M184.2 226.8h0M184.4 225.9h0M184.6 224.7h0M184.8 223.9h0M185.0 225.0h0M185.2 225.3h0M185.3 224.4h0M185.5 224.4h0M185.7 225.1h0M185.9 225.3h0M186.1 225.7h0M186.3 226.4h0M186.5 226.9h0M186.6 227.3h0M186.8 227.0h0M187.0 224.5h0M187.2 220.0h0M187.4 217.5h0M187.6 216.6h0M187.8 215.6h0M187.9 214.9h0M188.1 214.1h0M188.3 213.2h0M188.5 213.9h0M188.7 215.8h0M188.9 217.8h0M189.1 220.1h0M189.2 222.8h0M189.4 224.5h0M189.6 224.2h0M189.8 221.0h0M190.0 216.7h0M190.2 215.0h0M190.4 216.8h0M190.5 221.0h0M190.7 224.0h0M190.9 226.3h0M191.1 227.7h0M191.3 228.4h0M191.5 228.9h0M191.7 228.9h0M191.8 228.2h0M192.0 226.1h0M192.2 222.8h0M192.4 221.3h0M192.6 223.2h0M192.8 224.1h0M193.0 224.4h0M193.1 225.1h0M193.3 223.7h0M193.5 220.5h0M193.7 218.4h0M193.9 218.3h0M194.1 219.4h0M194.3 220.9h0M194.4 224.6h0M194.6 227.1h0M194.8 227.1h0M195.0 227.6h0M195.2 228.0h0M195.4 226.5h0M195.6 221.5h0M195.7 217.2h0M195.9 216.4h0M196.1 216.6h0M196.3 216.6h0M196.5 216.7h0M196.7 217.9h0M196.9 220.9h0M197.0 225.3h0M197.2 228.0h0M197.4 230.6h0M197.6 231.7h0M197.8 232.0h0M198.0 232.1h0M198.2 231.9h0M198.3 231.9h0M198.5 232.3h0M198.7 231.7h0M198.9 229.5h0M199.1 226.0h0M199.3 224.4h0M199.5 224.2h0M199.6 226.4h0M199.8 231.7h0M199.8 237.0h0M200.0 235.1h0M200.0 221.3h0M200.2 234.8h0M200.2 227.5h0M200.4 235.9h0M200.4 220.1h0M200.6 236.8h0M200.6 221.1h0M200.8 237.9h0M200.8 228.3h0M200.9 240.0h0M200.9 236.3h0M201.1 242.5h0M201.1 239.9h0M201.3 243.7h0M201.3 236.5h0M201.5 244.2h0M201.5 246.4h0M201.7 240.5h0M201.7 244.5h0M201.9 237.7h0M201.9 245.2h0M202.1 242.4h0M202.1 246.2h0M202.2 245.6h0M202.2 224.9h0M202.4 246.9h0M202.4 244.9h0M202.6 246.0h0M202.6 236.7h0M202.8 242.7h0M202.8 233.4h0M203.0 235.5h0M203.0 242.7h0M203.2 232.4h0M203.2 239.1h0M203.4 233.8h0M203.4 252.5h0M203.5 237.7h0M203.5 246.5h0M203.7 242.5h0M203.7 228.6h0M203.9 247.0h0M203.9 250.4h0M204.1 246.0h0M204.1 253.6h0M204.3 240.7h0M204.3 243.0h0M204.5 241.2h0M204.5 241.7h0M204.7 246.5h0M204.7 254.6h0M204.8 246.5h0M204.8 252.1h0M205.0 244.6h0M205.0 252.5h0M205.2 249.6h0M205.2 243.1h0M205.4 252.9h0M205.4 235.1h0M205.6 253.6h0M205.6 233.7h0M205.8 254.0h0M205.8 247.9h0M206.0 253.8h0M206.0 252.1h0M206.1 253.8h0M206.1 247.9h0M206.3 253.6h0M206.3 236.5h0M206.5 253.2h0M206.5 237.4h0M206.7 251.0h0M206.7 255.1h0M206.9 246.6h0M206.9 250.9h0M207.1 243.9h0M207.1 254.2h0M207.3 244.3h0M207.4 244.2h0M207.6 241.8h0M207.8 240.5h0M208.0 243.2h0M208.2 250.5h0M208.4 255.1h0M208.6 245.0h0M208.6 257.5h0M208.7 244.9h0M208.7 257.3h0M208.9 244.0h0M208.9 257.4h0M209.1 243.3h0M209.1 257.2h0M209.3 243.0h0M209.3 257.9h0M209.5 243.1h0M209.5 258.2h0M209.7 242.4h0M209.7 258.0h0M209.9 242.0h0M209.9 258.2h0M210.0 241.9h0M210.0 258.9h0M210.2 241.9h0M210.2 258.3h0M210.4 241.8h0M210.4 257.3h0M210.6 241.6h0M210.6 256.2h0M210.8 241.5h0M210.8 255.7h0M211.0 241.5h0M211.0 255.5h0M211.2 256.4h0M211.3 256.4h0M211.5 256.4h0M211.7 256.4h0M211.9 255.6h0M212.1 254.4h0M212.3 254.4h0M212.5 254.5h0M212.6 254.8h0M212.8 255.2h0M213.0 256.3h0M213.2 259.5h0M213.4 265.2h0M213.6 268.5h0M213.8 269.4h0M213.9 268.2h0M214.1 264.1h0M214.3 258.8h0M214.5 256.4h0M214.7 256.0h0M214.9 256.9h0M215.1 258.2h0M215.2 263.7h0M215.4 270.2h0M215.6 270.5h0M215.8 269.7h0M216.0 271.4h0M216.2 272.5h0M216.4 272.6h0M216.5 272.6h0M216.7 272.9h0M216.9 272.7h0M217.1 272.4h0M217.3 272.2h0M217.5 272.1h0M217.7 271.8h0M217.8 271.4h0M218.0 270.5h0M218.2 269.0h0M218.4 267.8h0M218.6 266.3h0M218.8 263.8h0M219.0 261.9h0M219.1 263.0h0M219.3 265.2h0M219.5 264.6h0M219.7 263.0h0M219.9 263.1h0M220.1 264.0h0M220.3 265.0h0M220.4 266.4h0M220.6 266.7h0M220.8 266.0h0M221.0 263.6h0M221.2 261.2h0M221.4 259.3h0M221.6 258.4h0M221.7 258.7h0M221.9 260.8h0M222.1 262.9h0M222.3 262.4h0M222.5 261.0h0M222.7 247.8h0M222.7 259.4h0M222.9 247.5h0M222.9 258.8h0M223.0 245.7h0M223.0 258.7h0M223.2 245.8h0M223.2 258.9h0M223.4 245.1h0M223.4 259.3h0M223.6 244.7h0M223.6 259.3h0M223.8 244.4h0M223.8 259.8h0M224.0 244.4h0M224.0 259.8h0M224.2 244.6h0M224.2 260.8h0M224.3 244.8h0M224.3 260.9h0M224.5 244.4h0M224.5 261.1h0M224.7 244.8h0M224.7 261.1h0M224.9 246.2h0M224.9 261.2h0M225.1 247.4h0M225.3 248.6h0M225.5 248.8h0M225.6 249.1h0M225.8 248.9h0M226.0 245.6h0M226.2 243.9h0M226.4 243.4h0M226.6 243.1h0M226.8 244.1h0M226.9 245.7h0M227.1 246.3h0M227.3 246.9h0M227.5 246.5h0M227.7 245.9h0M227.9 246.9h0M228.1 248.5h0M228.2 250.2h0M228.4 251.6h0M228.6 252.2h0M228.8 249.7h0M229.0 245.9h0M229.2 245.8h0M229.4 247.8h0M229.5 247.9h0M229.7 248.1h0M229.9 247.2h0M230.1 244.6h0M230.3 243.8h0M230.5 242.9h0M230.7 241.3h0M230.8 240.9h0M231.0 240.7h0M231.2 241.2h0M231.4 243.3h0M231.6 249.6h0M231.8 252.9h0M232.0 252.8h0M232.1 252.9h0M232.3 249.5h0M232.5 246.8h0M232.7 245.9h0M232.9 244.9h0M233.1 244.4h0M233.3 245.6h0M233.4 250.3h0M233.6 252.6h0M233.8 250.0h0M234.0 248.4h0M234.2 248.0h0M234.4 249.6h0M234.6 253.5h0M234.7 250.9h0M234.9 247.0h0M235.1 246.8h0M235.3 246.9h0M235.5 246.0h0M235.7 245.3h0M235.9 245.8h0M236.0 246.9h0M236.2 250.3h0M236.4 254.0h0M236.6 254.1h0M236.8 253.1h0M237.0 251.9h0M237.2 251.8h0M237.3 251.3h0M237.5 251.4h0M237.7 251.1h0M237.9 250.1h0M238.1 250.6h0M238.3 253.0h0M238.5 253.7h0M238.6 249.3h0M238.8 246.9h0M239.0 246.8h0M239.2 246.8h0M239.4 247.0h0M239.6 247.3h0M239.8 247.6h0M239.9 247.9h0M240.1 249.8h0M240.3 254.1h0M240.5 258.6h0M240.7 258.7h0M240.9 259.0h0M241.1 261.3h0M241.2 262.1h0M241.4 262.2h0M241.6 262.0h0M241.8 260.5h0M242.0 258.3h0M242.2 256.6h0M242.4 255.2h0M242.5 253.9h0M242.7 252.6h0M242.9 251.7h0M243.1 251.6h0M243.3 254.3h0M243.5 260.1h0M243.7 262.1h0M243.8 262.6h0M244.0 262.8h0M244.2 262.8h0M244.4 262.7h0M244.6 262.5h0M244.8 262.2h0M245.0 260.3h0M245.1 255.0h0M245.3 253.1h0M245.5 253.0h0M245.7 253.0h0M245.9 253.4h0M246.1 253.6h0M246.3 253.8h0M246.4 254.0h0M246.6 254.4h0M246.8 254.2h0M247.0 254.3h0M247.0 325.1h0M247.2 254.3h0M247.2 325.0h0M247.4 254.6h0M247.4 324.8h0M247.6 254.6h0M247.6 324.9h0M247.7 254.8h0M247.7 325.1h0M247.9 256.6h0M247.9 326.6h0M248.1 259.4h0M248.1 330.5h0M248.3 260.1h0M248.3 332.4h0M248.5 260.2h0M248.5 332.6h0M248.7 260.0h0M248.7 333.4h0M248.9 259.8h0M248.9 334.0h0M249.0 259.5h0M249.0 334.3h0M249.2 259.4h0M249.2 332.9h0M249.4 259.2h0M249.4 330.6h0M249.6 259.6h0M249.6 328.2h0M249.8 259.9h0M249.8 326.8h0M250.0 259.9h0M250.0 326.5h0M250.2 260.0h0M250.2 327.3h0M250.3 260.2h0M250.3 327.9h0M250.5 260.5h0M250.5 328.8h0M250.7 260.5h0M250.7 328.8h0M250.9 260.6h0M250.9 327.7h0M251.1 327.8h0M251.3 329.0h0M251.5 330.2h0M251.6 330.2h0M251.8 330.9h0M252.0 331.5h0M252.2 330.4h0M252.4 331.8h0M252.6 334.4h0M252.8 333.9h0M252.9 332.6h0M253.1 333.1h0M253.3 334.8h0M253.5 337.6h0M253.7 339.3h0M253.9 337.0h0M254.1 333.3h0M254.2 333.0h0M254.4 334.6h0M254.6 334.1h0M254.6 349.8h0M254.8 334.0h0M254.8 333.3h0M255.0 335.9h0M255.0 335.3h0M255.2 339.7h0M255.2 338.7h0M255.4 341.2h0M255.4 346.7h0M255.5 341.8h0M255.5 341.4h0M255.7 340.1h0M255.7 355.2h0M255.9 337.5h0M255.9 355.0h0M256.1 338.0h0M256.1 349.8h0M256.3 341.5h0M256.3 351.5h0M256.5 344.1h0M256.5 347.6h0M256.7 342.6h0M256.7 345.7h0M256.8 345.5h0M256.8 355.8h0M257.0 352.2h0M257.2 355.4h0M257.4 356.8h0M257.6 357.1h0M257.8 357.1h0M258.0 357.5h0M258.1 357.8h0M258.3 357.9h0M258.5 357.8h0M258.7 357.5h0M258.9 356.1h0M259.1 352.2h0M259.3 348.3h0M259.4 345.6h0M259.6 345.9h0M259.8 347.1h0M260.0 349.0h0M260.2 349.8h0M260.4 351.1h0M260.6 354.1h0M260.7 355.3h0M260.9 355.0h0M261.1 355.6h0M261.3 356.0h0M261.5 356.5h0M261.7 357.0h0M261.9 357.3h0M262.0 357.4h0M262.2 356.5h0M262.4 350.8h0M262.6 347.4h0M262.8 347.0h0M263.0 346.9h0M263.2 347.0h0M263.3 347.3h0M263.5 347.8h0M263.7 347.8h0M263.9 348.2h0M264.1 349.5h0M264.3 351.3h0M264.5 351.7h0M264.6 351.6h0M264.8 353.2h0M265.0 355.6h0M265.2 356.6h0M265.4 357.9h0M265.6 359.0h0M265.8 359.4h0M265.9 359.4h0M266.1 359.4h0M266.3 359.5h0M266.5 359.8h0M266.7 359.8h0M266.9 359.4h0M267.1 359.1h0M267.2 359.6h0M267.4 360.0h0M267.6 359.9h0M267.8 359.7h0M268.0 358.6h0M268.2 357.5h0M268.4 357.6h0M268.5 357.8h0M268.7 355.4h0M268.9 353.8h0M269.1 354.0h0M269.3 355.6h0M269.5 357.3h0M269.7 358.1h0M269.8 358.9h0M270.0 359.5h0M270.2 359.6h0M270.4 359.4h0M270.6 359.4h0M270.8 359.1h0M271.0 359.0h0M271.1 358.9h0M271.3 358.7h0M271.5 358.6h0M271.7 358.6h0M271.9 358.4h0M272.1 358.4h0M272.3 357.9h0M272.4 356.9h0M272.6 344.0h0M272.6 356.4h0M272.8 343.9h0M272.8 356.3h0M273.0 343.9h0M273.0 356.1h0M273.2 343.9h0M273.2 355.9h0M273.4 344.0h0M273.4 355.7h0M273.6 344.0h0M273.6 355.9h0M273.7 344.0h0M273.7 356.2h0M273.9 344.1h0M273.9 356.4h0M274.1 345.7h0M274.1 357.1h0M274.3 346.0h0M274.3 357.6h0M274.5 346.0h0M274.5 357.4h0M274.7 345.4h0M274.7 356.1h0M274.9 344.5h0M274.9 355.0h0M275.0 344.2h0M275.0 355.0h0M275.2 344.5h0M275.2 355.3h0M275.4 345.5h0M275.4 356.5h0M275.6 346.1h0M275.6 357.2h0M275.8 346.4h0M275.8 357.3h0M276.0 346.5h0M276.0 357.4h0M276.2 347.0h0M276.2 357.6h0M276.3 347.0h0M276.3 357.6h0M276.5 346.8h0M276.5 357.4h0M276.7 346.0h0M276.7 357.0h0M276.9 344.3h0M276.9 356.0h0M277.1 342.3h0M277.1 355.3h0M277.3 341.7h0M277.3 355.1h0M277.5 341.6h0M277.5 355.1h0M277.6 341.5h0M277.6 355.1h0M277.8 341.2h0M277.8 355.1h0M278.0 340.9h0M278.0 355.3h0M278.2 341.2h0M278.2 355.4h0M278.4 341.4h0M278.4 355.6h0M278.6 340.9h0M278.6 355.5h0M278.8 340.9h0M278.8 355.5h0M278.9 341.8h0M278.9 355.8h0M279.1 342.0h0M279.1 356.1h0M279.3 343.8h0M279.5 348.6h0M279.7 351.8h0M279.9 350.9h0M280.1 349.5h0M280.2 349.4h0M280.4 346.7h0M280.4 357.9h0M280.6 347.9h0M280.6 357.9h0M280.8 347.7h0M280.8 358.0h0M281.0 345.7h0M281.0 358.0h0M281.2 343.0h0M281.2 358.0h0M281.4 341.2h0M281.4 358.0h0M281.5 340.8h0M281.5 358.1h0M281.7 342.4h0M281.7 358.1h0M281.9 343.3h0M281.9 358.1h0M282.1 343.3h0M282.1 358.2h0M282.3 343.3h0M282.3 358.2h0M282.5 340.5h0M282.5 358.2h0M282.7 338.6h0M282.7 358.2h0M282.8 338.7h0M282.8 358.4h0M283.0 339.0h0M283.0 358.4h0M283.2 339.5h0M283.2 358.4h0M283.4 342.5h0M283.4 358.5h0M283.6 349.4h0M283.6 358.5h0M283.8 351.9h0M283.8 358.6h0M284.0 352.2h0M284.0 358.6h0M284.1 351.8h0M284.1 358.6h0M284.3 351.5h0M284.3 358.6h0M284.5 352.1h0M284.5 358.8h0M284.7 352.5h0M284.7 358.8h0M284.9 352.5h0M284.9 358.8h0M285.1 351.3h0M285.1 358.9h0M285.3 345.2h0M285.3 358.9h0M285.4 341.1h0M285.4 358.9h0M285.6 340.9h0M285.6 358.9h0M285.8 341.4h0M286.0 341.4h0M286.2 341.4h0M286.4 341.5h0M286.6 342.4h0M286.7 344.9h0M286.9 345.6h0M287.1 345.6h0M287.3 347.4h0M287.5 348.7h0M287.7 349.2h0M287.9 349.6h0M288.0 349.7h0M288.2 349.8h0M288.4 349.7h0M288.6 349.5h0M288.8 348.6h0M289.0 346.9h0M289.2 345.1h0M289.3 344.2h0M289.5 344.5h0M289.7 345.4h0M289.9 346.4h0M290.1 347.8h0M290.3 349.1h0M290.5 349.2h0M290.6 347.7h0M290.8 344.6h0M291.0 343.9h0M291.2 343.8h0M291.4 343.8h0M291.6 343.8h0M291.8 344.3h0M291.9 344.8h0M292.1 345.8h0M292.3 348.3h0M292.5 350.1h0M292.7 350.5h0M292.9 350.9h0M293.1 350.9h0M293.2 350.5h0M293.4 349.4h0M293.6 348.5h0M293.8 348.6h0M294.0 347.9h0M294.2 347.5h0M294.4 348.6h0M294.5 350.5h0M294.7 350.9h0M294.9 350.6h0M295.1 349.5h0M295.3 349.2h0M295.5 349.2h0M295.7 348.7h0M295.8 348.6h0M296.0 348.2h0M296.2 347.0h0M296.4 345.9h0M296.6 345.6h0M296.8 345.5h0M297.0 345.5h0M297.1 345.9h0M297.3 346.2h0M297.5 347.5h0M297.7 349.5h0M297.9 350.9h0M298.1 351.7h0M298.3 352.0h0M298.4 352.6h0M298.6 353.2h0M298.8 353.2h0M299.0 353.0h0M299.2 351.8h0M299.4 351.0h0M299.6 351.9h0M299.7 352.9h0M299.9 353.5h0M300.1 353.9h0M300.3 353.8h0M300.5 352.7h0M300.7 350.4h0M300.9 349.3h0M301.0 349.4h0M301.2 348.7h0M301.4 348.4h0M301.6 348.5h0M301.8 348.0h0M302.0 347.9h0M302.2 348.2h0M302.3 348.4h0M302.5 349.7h0M302.7 351.3h0M302.9 352.2h0M303.1 351.4h0M303.3 350.6h0M303.5 351.4h0M303.6 353.6h0M303.8 355.0h0M304.0 355.6h0M304.2 355.5h0M304.4 355.1h0M304.6 353.8h0M304.8 352.8h0M304.9 352.0h0M305.1 352.1h0M305.3 352.8h0M305.5 353.5h0M305.7 352.7h0M305.9 352.1h0M306.1 352.5h0M306.2 352.4h0M306.4 352.4h0M306.6 352.6h0M306.8 353.4h0M307.0 355.6h0M307.2 357.4h0M307.4 358.0h0M307.5 358.2h0M307.7 357.2h0M307.9 356.8h0M308.1 358.1h0M308.3 359.2h0M308.5 359.6h0M308.7 360.3h0M308.8 360.8h0M309.0 360.9h0M309.2 360.6h0M309.4 360.4h0M309.6 360.2h0M309.8 360.3h0M310.0 360.0h0M310.1 360.6h0M310.3 361.0h0M310.5 360.2h0M310.7 358.7h0M310.9 358.7h0M311.1 359.7h0M311.3 360.5h0M311.4 359.3h0M311.6 359.2h0M311.8 360.1h0M312.0 361.3h0M312.2 361.5h0M312.4 361.2h0M312.6 360.5h0M312.7 360.2h0M312.9 360.7h0M313.1 361.1h0M313.3 361.7h0M313.5 363.2h0M313.7 366.4h0M313.9 367.7h0M314.0 368.2h0M314.2 368.2h0M314.4 368.5h0M314.6 368.5h0M314.8 368.7h0M315.0 368.7h0M315.2 368.9h0M315.3 368.9h0M315.5 369.1h0M315.7 368.9h0M315.9 369.1h0M316.1 369.1h0M316.3 369.3h0M316.5 368.9h0M316.6 368.2h0M316.8 368.0h0M317.0 368.3h0M317.2 368.2h0M317.4 368.7h0M317.6 369.4h0M317.8 369.6h0M317.9 368.6h0M318.1 368.0h0M318.3 367.7h0M318.5 367.8h0M318.7 368.2h0M318.9 368.6h0M319.1 369.0h0M319.2 369.6h0M319.4 369.3h0M319.6 368.6h0M319.8 366.9h0M320.0 365.8h0M320.2 365.7h0M320.4 365.9h0M320.5 366.0h0M320.7 365.6h0M320.9 365.7h0M321.1 365.7h0M321.3 366.3h0M321.5 367.4h0M321.7 367.9h0M321.8 368.2h0M322.0 369.5h0M322.2 371.2h0M322.4 372.4h0M322.6 372.8h0M322.8 372.9h0M323.0 372.9h0M323.1 372.9h0M323.3 372.0h0M323.5 371.1h0M323.7 370.6h0M323.9 370.0h0M324.1 369.8h0M324.3 371.0h0M324.4 371.9h0M324.6 371.9h0M324.8 371.0h0M325.0 369.4h0M325.2 368.7h0M325.4 369.2h0M325.6 369.4h0M325.7 369.1h0M325.9 368.5h0M326.1 368.3h0M326.3 368.5h0M326.5 368.2h0M326.7 368.3h0M326.9 368.6h0M327.0 368.8h0M327.2 369.4h0M327.4 371.9h0M327.6 373.3h0M327.8 372.9h0M328.0 372.5h0M328.2 372.4h0M328.3 372.3h0M328.5 372.1h0M328.7 372.2h0M328.9 372.7h0M329.1 373.7h0M329.3 374.1h0M329.5 374.1h0M329.6 374.1h0M329.8 373.7h0M330.0 373.3h0M330.2 373.0h0M330.4 371.8h0M330.6 370.0h0M330.8 370.4h0M330.9 370.4h0M331.1 371.0h0M331.3 372.3h0M331.5 372.4h0M331.7 371.9h0M331.9 370.8h0M332.1 370.4h0M332.2 371.2h0M332.4 372.0h0M332.6 372.2h0M332.8 372.1h0M333.0 372.4h0M333.2 372.6h0M333.4 359.6h0M333.4 372.4h0M333.5 359.6h0M333.5 371.4h0M333.7 359.6h0M333.7 371.3h0M333.9 359.4h0M333.9 369.8h0M334.1 359.2h0M334.1 368.5h0M334.3 359.1h0M334.3 367.6h0M334.5 359.1h0M334.5 367.6h0M334.7 358.9h0M334.7 366.9h0M334.8 358.7h0M335.0 358.5h0M335.2 358.7h0M335.4 359.0h0M335.6 347.9h0M335.6 359.3h0M335.8 347.9h0M335.8 359.5h0M336.0 347.9h0M336.0 359.5h0M336.1 347.8h0M336.1 359.4h0M336.3 347.7h0M336.3 359.2h0M336.5 348.2h0M336.5 359.3h0M336.7 348.2h0M336.7 359.2h0M336.9 358.9h0M337.1 359.4h0M337.3 359.5h0M337.4 359.7h0M337.6 359.6h0M337.8 358.4h0M338.0 355.9h0M338.2 354.5h0M338.4 352.5h0M338.6 350.0h0M338.7 350.2h0M338.9 352.4h0M339.1 352.1h0M339.3 350.6h0M339.5 349.0h0M339.7 348.9h0M339.9 352.2h0M340.0 355.6h0M340.2 356.2h0M340.4 356.2h0M340.6 356.2h0M340.8 355.4h0M341.0 354.1h0M341.2 353.6h0M341.3 354.1h0M341.5 355.2h0M341.7 356.1h0M341.9 356.6h0M342.1 356.0h0M342.3 355.5h0M342.5 355.5h0M342.6 354.0h0M342.8 350.9h0M343.0 350.6h0M343.2 350.5h0M343.4 351.1h0M343.6 352.2h0M343.8 353.4h0M343.9 354.3h0M344.1 355.5h0M344.3 355.1h0M344.5 354.2h0M344.7 354.1h0M344.9 355.7h0M345.1 357.9h0M345.2 359.3h0M345.4 360.4h0M345.6 360.3h0M345.8 359.0h0M346.0 357.2h0M346.2 357.1h0M346.4 354.9h0M346.4 360.5h0M346.5 354.9h0M346.5 360.1h0M346.7 354.9h0M346.7 360.4h0M346.9 355.0h0M346.9 361.6h0M347.1 354.9h0M347.1 361.9h0M347.3 355.0h0M347.3 361.2h0M347.5 355.0h0M347.5 361.3h0M347.7 361.3h0M347.8 361.2h0M348.0 361.7h0M348.2 362.2h0M348.4 362.2h0M348.6 362.1h0M348.8 361.9h0M349.0 361.9h0M349.1 362.4h0M349.3 362.8h0M349.5 362.8h0M349.7 362.7h0M349.9 362.6h0M350.1 362.3h0M350.3 362.1h0M350.4 361.4h0M350.6 360.3h0M350.8 359.1h0M351.0 358.7h0M351.2 358.5h0M351.4 358.4h0M351.6 358.2h0M351.7 358.2h0M351.9 358.2h0M352.1 358.1h0M352.3 357.9h0M352.5 358.0h0M352.7 358.2h0M352.9 358.3h0M353.0 358.0h0M353.2 358.1h0M353.4 358.5h0M353.6 359.6h0M353.8 361.0h0M354.0 361.4h0M354.2 361.2h0M354.3 361.5h0M354.5 361.6h0M354.7 361.3h0M354.9 360.3h0M355.1 359.2h0M355.3 359.2h0M355.5 358.6h0M355.6 357.8h0M355.8 358.0h0M356.0 358.2h0M356.2 358.2h0M356.4 358.9h0M356.6 359.9h0M356.8 360.1h0M356.9 360.2h0M357.1 360.2h0M357.3 360.1h0M357.5 360.0h0M357.7 359.7h0M357.9 359.7h0M358.1 359.6h0M358.2 358.3h0M358.4 356.8h0M358.6 355.9h0M358.8 354.9h0M359.0 354.6h0M359.2 354.5h0M359.4 354.3h0M359.5 354.0h0M359.7 354.1h0M359.9 354.4h0M360.1 355.6h0M360.3 357.9h0M360.5 359.5h0M360.7 360.1h0M360.8 360.7h0M361.0 360.9h0M361.2 360.6h0M361.4 358.5h0M361.6 355.8h0M361.8 354.7h0M362.0 354.8h0M362.1 355.9h0M362.3 357.4h0M362.5 358.9h0M362.7 358.5h0M362.9 358.6h0M363.1 359.1h0M363.3 358.1h0M363.4 356.1h0M363.6 355.3h0M363.8 357.4h0M364.0 359.7h0M364.2 359.7h0M364.4 356.9h0M364.6 353.9h0M364.7 352.9h0M364.9 352.7h0M365.1 352.9h0M365.3 353.3h0M365.5 353.8h0M365.7 354.4h0M365.9 355.2h0M366.0 356.2h0M366.2 356.2h0M366.4 357.0h0M366.6 360.2h0M366.8 363.6h0M367.0 364.4h0M367.2 364.8h0M367.3 364.7h0M367.5 364.9h0M367.7 364.6h0M367.9 364.4h0M368.1 365.0h0M368.3 365.4h0M368.5 365.3h0M368.6 365.1h0M368.8 365.1h0M369.0 365.1h0M369.2 364.6h0M369.4 363.3h0M369.6 361.6h0M369.8 361.5h0M369.9 362.4h0M370.1 363.3h0M370.3 363.2h0M370.5 363.0h0M370.7 362.8h0M370.9 362.8h0M371.1 363.5h0M371.2 363.4h0M371.4 364.0h0M371.6 365.8h0M371.8 366.7h0M372.0 366.9h0M372.2 368.1h0M372.4 369.3h0M372.5 370.6h0M372.7 370.9h0M372.9 371.3h0M373.1 371.6h0M373.3 371.7h0M373.5 371.7h0M373.7 372.0h0M373.8 372.2h0M374.0 364.2h0M374.0 372.7h0M374.2 364.2h0M374.2 372.8h0M374.4 364.2h0M374.4 373.0h0M374.6 372.8h0M374.8 372.3h0M375.0 371.0h0M375.1 370.4h0M375.3 370.4h0M375.5 371.6h0M375.7 372.9h0M375.9 373.5h0M376.1 373.6h0M376.3 374.0h0M376.4 374.1h0M376.6 374.1h0M376.8 373.7h0M377.0 373.3h0M377.2 372.9h0M377.4 373.5h0M377.6 373.7h0M377.7 372.8h0M377.9 372.2h0M378.1 371.9h0M378.3 371.7h0M378.5 371.6h0M378.7 372.4h0M378.9 373.6h0M379.0 374.9h0M379.2 376.0h0M379.4 376.6h0M379.6 376.9h0M379.8 376.9h0M380.0 376.8h0M380.2 376.8h0M380.3 376.3h0M380.5 375.3h0M380.7 374.9h0M380.9 374.7h0M381.1 374.8h0M381.3 375.6h0M381.5 376.5h0M381.6 377.1h0M381.8 377.2h0M382.0 377.3h0M382.2 377.4h0M382.4 377.8h0M382.6 377.9h0M382.8 377.9h0M382.9 377.9h0M383.1 377.9h0M383.3 377.5h0M383.5 376.4h0M383.7 375.2h0M383.9 375.0h0M384.1 375.2h0M384.2 375.7h0M384.4 376.6h0M384.6 377.1h0M384.8 376.9h0M385.0 375.5h0M385.2 374.5h0M385.4 374.4h0M385.5 374.5h0M385.7 374.5h0M385.9 374.5h0M386.1 374.8h0M386.3 374.8h0M386.5 375.1h0M386.7 375.3h0M386.8 375.2h0M387.0 375.5h0M387.2 375.9h0M387.4 377.4h0M387.6 379.1h0M387.8 380.1h0M388.0 380.4h0M388.1 380.8h0M388.3 380.9h0M388.5 379.9h0M388.7 378.5h0M388.9 378.6h0M389.1 378.9h0M389.3 378.8h0M389.4 377.6h0M389.6 377.2h0M389.8 377.4h0M390.0 378.0h0M390.2 377.5h0M390.4 377.1h0M390.6 377.4h0M390.7 377.5h0M390.9 377.4h0M391.1 377.3h0M391.3 377.7h0M391.5 379.1h0M391.7 379.7h0M391.9 379.7h0M392.0 381.8h0M392.2 384.0h0M392.4 384.4h0M392.6 384.7h0M392.8 385.2h0M393.0 385.4h0M393.2 385.4h0M393.3 385.7h0M393.5 385.7h0M393.7 385.7h0M393.9 385.5h0M394.1 385.5h0M394.3 385.2h0M394.5 385.2h0M394.6 385.2h0M394.8 385.0h0M395.0 385.0h0M395.2 384.9h0M395.4 384.7h0M395.6 384.7h0M395.8 384.4h0M395.9 384.1h0M396.1 382.3h0M396.3 380.2h0M396.5 379.2h0M396.7 379.3h0M396.9 380.6h0M397.1 381.8h0M397.2 382.9h0M397.4 382.9h0M397.6 381.7h0M397.8 379.8h0M398.0 379.1h0M398.2 379.1h0M398.4 379.7h0M398.5 379.9h0M398.7 379.5h0M398.9 378.8h0M399.1 378.3h0M399.3 378.3h0M399.5 378.2h0M399.7 377.9h0M399.8 378.6h0M400.0 381.1h0M400.2 382.0h0M400.4 382.1h0M400.6 382.1h0M400.8 381.8h0M401.0 381.9h0M401.1 381.9h0M401.3 381.9h0M401.5 381.5h0M401.7 381.2h0M401.9 380.5h0M402.1 378.0h0M402.3 376.2h0M402.4 376.0h0M402.6 376.5h0M402.8 378.7h0M403.0 380.5h0M403.2 380.6h0M403.4 379.7h0M403.6 378.8h0M403.7 377.8h0M403.9 376.7h0M404.1 376.1h0M404.3 375.9h0M404.5 376.3h0M404.7 377.4h0M404.9 379.0h0M405.0 379.5h0M405.2 379.3h0M405.4 379.5h0M405.6 380.0h0M405.8 379.9h0M406.0 380.0h0M406.2 380.0h0M406.3 379.7h0M406.5 379.7h0M406.7 379.7h0M406.9 379.4h0M407.1 379.4h0M407.3 379.1h0M407.5 378.7h0M407.6 377.7h0M407.8 377.5h0M408.0 366.7h0M408.0 377.7h0M408.2 366.7h0M408.2 377.6h0M408.4 366.6h0M408.4 376.6h0M408.6 366.2h0M408.6 375.7h0M408.8 365.9h0M408.8 375.3h0M408.9 365.8h0M408.9 375.1h0M409.1 365.6h0M409.1 375.1h0M409.3 363.9h0M409.5 363.6h0M409.7 363.7h0M409.9 363.7h0M410.1 364.4h0M410.2 364.7h0M410.4 363.9h0M410.6 363.7h0M410.8 363.8h0M411.0 364.1h0M411.2 364.4h0M411.4 364.7h0M411.5 365.1h0M411.7 365.8h0M411.9 366.0h0M412.1 366.5h0M412.3 368.1h0M412.5 371.4h0M412.7 373.6h0M412.8 373.8h0M413.0 370.7h0M413.2 369.4h0M413.4 368.6h0M413.6 368.7h0M413.8 368.9h0M414.0 369.9h0M414.1 370.9h0M414.3 371.0h0M414.5 370.6h0M414.7 370.6h0M414.9 369.7h0M415.1 366.9h0M415.3 364.6h0M415.4 364.5h0M415.6 364.3h0M415.8 362.8h0M416.0 361.9h0M416.2 362.1h0M416.4 362.6h0M416.6 363.4h0M416.7 364.7h0M416.9 364.6h0M417.1 363.4h0M417.3 363.0h0M417.5 362.8h0M417.7 362.1h0M417.9 361.4h0M418.0 361.4h0M418.2 362.1h0M418.4 364.2h0M418.6 366.2h0M418.8 367.4h0M419.0 368.1h0M419.2 368.5h0M419.3 368.6h0M419.5 368.3h0M419.7 367.9h0M419.9 367.3h0M420.1 365.5h0M420.3 363.0h0M420.5 361.6h0M420.6 361.4h0M420.8 361.5h0M421.0 361.3h0M421.2 361.4h0M421.4 361.6h0M421.6 362.1h0M421.8 363.0h0M421.9 362.8h0M422.1 361.1h0M422.3 360.1h0M422.5 359.4h0M422.7 359.3h0M422.9 359.2h0M423.1 359.4h0M423.2 360.3h0M423.4 361.1h0M423.6 361.0h0M423.8 361.3h0M424.0 361.7h0M424.2 360.7h0M424.4 359.4h0M424.5 358.5h0M424.7 357.4h0M424.9 356.0h0M425.1 355.0h0M425.3 354.3h0M425.5 354.6h0M425.7 354.0h0M425.8 353.1h0M426.0 352.7h0M426.2 353.3h0M426.4 352.7h0M426.6 351.5h0M426.8 332.4h0M426.8 350.7h0M427.0 332.4h0M427.0 350.3h0M427.1 333.0h0M427.1 349.8h0M427.3 333.5h0M427.3 349.5h0M427.5 333.1h0M427.5 349.2h0M427.7 333.1h0M427.7 349.1h0M427.9 332.6h0M427.9 349.2h0M428.1 332.4h0M428.1 349.3h0M428.3 332.4h0M428.3 349.9h0M428.4 333.9h0M428.4 352.1h0M428.6 335.8h0M428.6 355.1h0M428.8 337.1h0M428.8 356.8h0M429.0 337.8h0M429.0 357.2h0M429.2 338.1h0M429.2 357.5h0M429.4 338.3h0M429.4 357.5h0M429.6 338.3h0M429.6 356.5h0M429.7 338.1h0M429.7 356.3h0M429.9 337.5h0M429.9 354.9h0M430.1 336.5h0M430.1 353.2h0M430.3 335.2h0M430.3 351.5h0M430.5 333.8h0M430.5 350.7h0M430.7 330.4h0M430.7 348.4h0M430.9 328.6h0M430.9 347.5h0M431.0 329.9h0M431.0 347.2h0M431.2 331.1h0M431.2 347.3h0M431.4 329.0h0M431.4 346.2h0M431.6 326.6h0M431.6 345.2h0M431.8 325.7h0M432.0 325.6h0M432.2 326.1h0M432.3 327.3h0M432.5 330.4h0M432.7 335.4h0M432.9 338.5h0M433.1 339.1h0M433.3 339.5h0M433.5 339.4h0M433.6 339.5h0M433.8 339.2h0M434.0 338.1h0M434.2 334.0h0M434.4 326.4h0M434.6 324.4h0M434.8 324.5h0M434.9 327.4h0M435.1 330.3h0M435.3 331.1h0M435.5 332.0h0M435.7 331.6h0M435.9 330.9h0M436.1 330.4h0M436.2 329.6h0M436.4 331.4h0M436.4 333.2h0M436.6 334.5h0M436.6 332.3h0M436.8 333.1h0M436.8 342.9h0M437.0 327.9h0M437.0 341.0h0M437.2 326.0h0M437.2 341.7h0M437.4 326.2h0M437.5 327.6h0M437.7 332.4h0M437.9 338.5h0M438.1 340.4h0M438.3 338.3h0M438.5 331.4h0M438.7 327.6h0M438.8 326.6h0M439.0 327.2h0M439.2 329.1h0M439.4 330.9h0M439.6 330.5h0M439.8 329.0h0M440.0 327.8h0M440.1 327.5h0M440.3 327.3h0M440.5 327.4h0M440.7 327.3h0M440.9 327.7h0M441.1 327.9h0M441.3 328.2h0M441.4 329.5h0M441.6 332.0h0M441.8 332.2h0M442.0 331.9h0M442.2 333.4h0M442.4 332.5h0M442.6 329.6h0M442.7 329.4h0M442.9 330.6h0M443.1 330.9h0M443.3 331.4h0M443.5 332.0h0M443.7 331.7h0M443.9 330.8h0M444.0 329.7h0M444.2 329.2h0M444.4 330.3h0M444.6 332.2h0M444.8 333.9h0M445.0 334.9h0M445.2 335.4h0M445.3 335.2h0M445.5 334.8h0M445.7 334.1h0M445.9 333.3h0M446.1 333.2h0M446.3 332.9h0M446.5 332.1h0M446.6 330.2h0M446.8 327.1h0M447.0 326.0h0M447.2 325.9h0M447.4 326.0h0M447.6 325.8h0M447.8 325.6h0M447.9 325.6h0M448.1 325.6h0M448.3 325.9h0M448.5 327.4h0M448.7 327.9h0M448.9 327.7h0M449.1 328.5h0M449.2 329.3h0M449.4 327.0h0M449.6 324.9h0M449.8 324.5h0M450.0 324.4h0M450.2 324.2h0M450.4 324.0h0M450.5 324.4h0M450.7 325.2h0M450.9 325.1h0M451.1 324.6h0M451.3 324.6h0M451.5 324.5h0M451.7 325.0h0M451.8 326.4h0M452.0 328.7h0M452.2 330.5h0M452.4 330.4h0M452.6 331.5h0M452.8 335.0h0M453.0 337.5h0M453.1 339.2h0M453.3 339.9h0M453.5 340.1h0M453.7 339.6h0M453.9 339.1h0M454.1 338.3h0M454.3 336.4h0M454.4 334.1h0M454.6 332.5h0M454.8 332.1h0M455.0 331.7h0M455.2 330.7h0M455.4 331.2h0M455.6 333.4h0M455.7 336.7h0M455.9 339.2h0M456.1 340.1h0M456.1 354.4h0M456.3 340.7h0M456.3 354.6h0M456.5 341.2h0M456.5 354.7h0M456.7 342.0h0M456.7 355.2h0M456.9 342.5h0M456.9 355.4h0M457.0 342.9h0M457.0 355.8h0M457.2 342.2h0M457.2 355.7h0M457.4 339.8h0M457.4 355.2h0M457.6 335.0h0M457.6 353.8h0M457.8 333.6h0M457.8 353.0h0M458.0 333.7h0M458.0 353.0h0M458.2 334.4h0M458.2 353.0h0M458.3 334.8h0M458.3 352.8h0M458.3 372.9h0M458.5 336.7h0M458.5 349.6h0M458.5 372.5h0M458.7 338.6h0M458.7 350.1h0M458.7 372.5h0M458.9 340.6h0M458.9 339.0h0M458.9 372.1h0M459.1 340.0h0M459.1 349.7h0M459.1 371.1h0M459.3 341.5h0M459.3 340.3h0M459.3 370.3h0M459.5 343.9h0M459.5 352.6h0M459.5 370.8h0M459.6 345.0h0M459.6 357.3h0M459.6 370.8h0M459.8 346.6h0M459.8 337.6h0M459.8 371.3h0M460.0 347.4h0M460.0 338.8h0M460.0 371.8h0M460.2 349.3h0M460.2 355.6h0M460.2 372.5h0M460.4 353.1h0M460.4 343.1h0M460.4 374.2h0M460.6 354.5h0M460.6 354.9h0M460.6 375.2h0M460.8 353.2h0M460.8 342.2h0M460.8 374.8h0M460.9 352.2h0M460.9 343.7h0M460.9 374.3h0M461.1 355.0h0M461.1 345.4h0M461.1 375.6h0M461.3 357.1h0M461.3 353.1h0M461.3 376.5h0M461.5 356.2h0M461.5 376.0h0M461.7 352.7h0M461.7 374.3h0M461.9 351.1h0M461.9 373.3h0M462.1 358.7h0M462.1 373.0h0M462.2 358.7h0M462.2 373.0h0M462.4 358.6h0M462.4 372.1h0M462.6 358.4h0M462.6 371.0h0M462.8 358.6h0M462.8 370.7h0M463.0 358.4h0M463.0 370.0h0M463.2 358.5h0M463.2 369.7h0M463.4 358.8h0M463.4 369.8h0M463.5 359.6h0M463.5 371.2h0M463.7 360.6h0M463.7 374.4h0M463.9 361.2h0M463.9 376.1h0M464.1 361.1h0M464.1 376.2h0M464.3 361.0h0M464.3 375.2h0M464.5 361.0h0M464.5 374.9h0M464.7 361.1h0M464.7 376.8h0M464.8 361.2h0M464.8 377.7h0M465.0 361.0h0M465.0 377.6h0M465.2 361.0h0M465.2 376.7h0M465.4 361.1h0M465.4 375.9h0M465.6 361.2h0M465.6 375.3h0M465.8 361.6h0M465.8 373.7h0M466.0 361.6h0M466.0 370.8h0M466.1 361.9h0M466.1 369.9h0M466.3 362.2h0M466.3 369.8h0M466.5 362.4h0M466.5 370.2h0M466.7 362.4h0M466.7 370.4h0M466.9 370.7h0M467.1 372.1h0M467.3 375.5h0M467.4 376.6h0M467.6 376.6h0M467.8 377.1h0M468.0 377.5h0M468.2 377.4h0M468.4 377.1h0M468.6 375.9h0M468.7 374.3h0M468.9 373.9h0M469.1 375.0h0M469.3 376.2h0M469.5 377.3h0M469.7 377.8h0M469.9 377.9h0M470.0 377.9h0M470.2 378.0h0M470.4 378.0h0M470.6 377.9h0M470.8 377.9h0M471.0 377.9h0M471.2 377.7h0M471.3 377.2h0M471.5 377.0h0M471.7 377.5h0M471.9 377.7h0M472.1 377.7h0M472.3 377.7h0M472.5 377.7h0M472.6 377.7h0M472.8 377.6h0M473.0 377.0h0M473.2 376.8h0M473.4 376.7h0M473.6 376.5h0M473.8 376.8h0M473.9 375.1h0M474.1 373.3h0M474.3 373.7h0M474.5 374.4h0M474.7 375.1h0M474.9 374.6h0M475.1 360.0h0M475.1 373.3h0M475.2 360.0h0M475.2 373.0h0M475.4 360.2h0M475.4 372.9h0M475.6 360.5h0M475.6 373.2h0M475.8 353.9h0M475.8 360.9h0M475.8 373.2h0M476.0 353.9h0M476.0 360.9h0M476.0 373.6h0M476.2 353.1h0M476.2 361.2h0M476.2 374.9h0M476.4 353.0h0M476.4 361.6h0M476.4 375.7h0M476.5 355.2h0M476.5 375.7h0M476.7 355.7h0M476.7 375.9h0M476.9 353.9h0M476.9 375.6h0M477.1 349.9h0M477.1 374.9h0M477.3 347.8h0M477.3 374.5h0M477.5 345.7h0M477.5 374.0h0M477.7 343.8h0M477.7 373.9h0M477.8 342.9h0M477.8 374.1h0M478.0 342.8h0M478.0 374.3h0M478.2 342.8h0M478.2 374.3h0M478.4 343.1h0M478.4 374.6h0M478.6 343.5h0M478.6 375.1h0M478.8 344.7h0M478.8 375.4h0M479.0 349.8h0M479.0 375.9h0M479.1 358.5h0M479.1 376.9h0M479.3 361.1h0M479.3 377.2h0M479.5 362.0h0M479.5 377.8h0M479.7 362.3h0M479.7 377.8h0M479.9 362.3h0M479.9 378.5h0M480.1 362.2h0M480.3 359.6h0M480.4 353.0h0M480.6 348.5h0M480.8 347.0h0M481.0 347.7h0M481.2 347.6h0M481.4 348.1h0M481.6 349.0h0M481.7 349.4h0M481.9 350.5h0M482.1 350.9h0M482.3 351.4h0M482.5 351.5h0M482.7 352.0h0M482.9 352.3h0M483.0 352.6h0M483.2 352.6h0M483.4 353.2h0M483.6 355.4h0M483.8 358.5h0M484.0 359.1h0M484.2 359.6h0M484.3 360.0h0M484.5 361.6h0M484.7 362.8h0M484.9 363.5h0M485.1 363.7h0M485.3 365.8h0M485.5 367.8h0M485.6 369.5h0M485.8 370.7h0M486.0 371.5h0M486.2 370.8h0M486.4 371.6h0M486.6 372.6h0M486.8 372.5h0M486.9 369.9h0M487.1 367.8h0M487.3 366.3h0M487.5 363.6h0M487.7 362.0h0M487.9 363.5h0M488.1 364.6h0M488.2 364.7h0M488.4 367.1h0M488.6 370.3h0M488.8 373.3h0M489.0 374.5h0M489.2 375.2h0M489.4 375.3h0M489.5 375.0h0M489.7 374.9h0M489.9 375.6h0M490.1 375.9h0M490.3 375.2h0M490.5 371.3h0M490.7 369.2h0M490.8 368.9h0M491.0 365.9h0M491.2 364.2h0M491.4 369.0h0M491.6 376.5h0M491.8 377.7h0M492.0 377.8h0M492.1 377.9h0M492.3 377.9h0M492.5 377.9h0M492.7 377.8h0M492.9 377.6h0M493.1 377.5h0M493.3 377.5h0M493.4 377.2h0M493.6 377.1h0M493.8 376.0h0M494.0 373.0h0M494.2 371.4h0M494.4 371.7h0M494.6 373.2h0M494.7 376.1h0M494.9 378.1h0M495.1 378.6h0M495.3 378.7h0M495.5 378.5h0M495.7 378.6h0M495.9 377.7h0M496.0 375.1h0M496.2 373.4h0M496.4 373.2h0M496.6 373.2h0M496.8 373.4h0M497.0 373.7h0M497.2 373.9h0M497.3 374.0h0M497.5 373.9h0M497.7 374.2h0M497.9 374.5h0M498.1 374.7h0M498.3 375.3h0M498.5 376.4h0M498.6 378.0h0M498.8 378.4h0M499.0 377.9h0M499.2 377.5h0M499.4 378.3h0M499.6 379.0h0M499.8 379.2h0M499.9 378.5h0M500.1 378.2h0M500.3 378.5h0M500.5 378.5h0M500.7 377.9h0M500.9 377.4h0M501.1 377.3h0M501.2 377.8h0M501.4 378.4h0M501.6 378.6h0M501.8 378.5h0M502.0 378.0h0M502.2 377.4h0M502.4 376.9h0M502.5 376.5h0M502.7 376.4h0M502.9 376.6h0M503.1 377.0h0M503.3 377.9h0M503.5 379.1h0M503.7 380.0h0M503.8 380.5h0M504.0 380.9h0M504.2 381.0h0M504.4 381.0h0M504.6 380.8h0M504.8 380.7h0M505.0 380.6h0M505.1 380.6h0M505.3 380.7h0M505.5 380.6h0M505.7 380.4h0M505.9 380.4h0M506.1 380.3h0M506.3 380.4h0M506.4 380.2h0M506.6 380.1h0M506.8 380.2h0M507.0 379.9h0M507.2 380.0h0M507.4 379.6h0M507.6 380.1h0M507.7 380.1h0M507.9 379.9h0M509.0 418.3h0M509.2 418.2h0M509.4 418.4h0M509.6 418.0h0M509.8 417.6h0M510.0 417.5h0M510.2 417.7h0M510.3 418.4h0M510.5 418.7h0M510.7 418.4h0M510.9 418.0h0M511.1 417.5h0M511.3 417.1h0M511.5 417.1h0M511.6 417.1h0M511.8 417.3h0M512.0 417.3h0M512.2 417.3h0M512.4 417.3h0M512.6 417.4h0M512.8 417.6h0M512.9 417.8h0M513.1 418.1h0M513.3 418.9h0M513.5 419.3h0M513.7 418.6h0M513.9 418.5h0M514.1 420.0h0M514.2 421.6h0M514.4 422.0h0M514.6 421.9h0M514.8 421.6h0M515.0 421.3h0M515.2 420.6h0M515.4 419.4h0M515.5 418.6h0M515.7 418.4h0M515.9 418.4h0M516.1 418.4h0M516.3 418.5h0M516.5 419.2h0M516.7 420.3h0M516.8 420.9h0M517.0 421.2h0M517.2 420.9h0M517.4 419.8h0M517.6 418.9h0M517.8 418.9h0M518.0 418.8h0M518.1 418.8h0M518.3 419.2h0M518.5 419.1h0M518.7 418.9h0M518.9 419.1h0M519.1 419.1h0M519.3 418.5h0M519.4 418.6h0M519.6 418.5h0M519.8 418.5h0M520.0 418.3h0M520.2 418.3h0M520.4 418.8h0M520.6 419.9h0M520.7 420.5h0M520.9 420.8h0M521.1 421.1h0M521.3 421.4h0M521.5 421.4h0M521.7 421.4h0M521.9 421.5h0M522.0 421.7h0M522.2 421.8h0M522.4 421.8h0M522.6 421.8h0M522.8 421.3h0M523.0 420.8h0M523.2 420.8h0M523.3 420.8h0M523.5 420.8h0M523.7 420.7h0M523.9 421.0h0M524.1 421.4h0M524.3 421.4h0M524.5 421.4h0M524.6 421.4h0M524.8 421.6h0M525.0 421.8h0M525.2 421.9h0M525.4 422.0h0M525.6 422.3h0M525.8 422.6h0M525.9 422.9h0M526.1 423.8h0M526.3 423.9h0M526.5 424.2h0M526.7 424.2h0M526.9 424.6h0M527.1 425.0h0M527.2 425.0h0M527.4 424.9h0M527.6 424.7h0M527.8 424.3h0M528.0 423.6h0M528.2 423.5h0M528.4 423.5h0M528.5 423.7h0M528.7 424.3h0M528.9 425.0h0M529.1 425.1h0M529.3 425.5h0M529.5 426.2h0M529.7 426.7h0M529.8 427.0h0M530.0 427.2h0M530.2 427.3h0M530.4 427.4h0M530.6 427.4h0M530.8 427.6h0M531.0 427.6h0M531.2 427.6h0M531.3 427.4h0M531.5 426.9h0M531.7 425.9h0M531.9 425.3h0M532.1 425.0h0M532.3 425.5h0M532.5 426.7h0M532.6 427.2h0M532.8 427.2h0M533.0 427.0h0M533.2 426.4h0M533.4 426.0h0M533.6 426.0h0M533.8 426.3h0M533.9 426.7h0M534.1 427.5h0M534.3 427.9h0M534.5 427.7h0M534.7 427.3h0M534.9 427.0h0M535.1 426.3h0M535.2 426.2h0M535.4 426.6h0M535.6 427.2h0M535.8 427.7h0M536.0 427.9h0M536.2 428.5h0M536.4 429.4h0M536.5 430.8h0M536.7 430.9h0M536.9 431.9h0M537.1 433.3h0M537.3 434.5h0M537.5 434.0h0M537.7 433.5h0M537.8 433.4h0M538.0 433.7h0M538.2 433.2h0M538.4 431.7h0M538.6 429.9h0M538.8 429.3h0M539.0 429.3h0M539.1 429.8h0M539.3 430.1h0M539.5 431.6h0M539.7 434.3h0M539.9 437.6h0M539.9 429.3h0M540.1 436.3h0M540.1 429.9h0M540.3 433.5h0M540.3 451.8h0M540.4 432.3h0M540.4 451.1h0M540.6 431.5h0M540.6 442.8h0M540.8 431.4h0M540.8 444.6h0M541.0 432.1h0M541.0 445.1h0M541.2 434.0h0M541.2 445.6h0M541.4 433.3h0M541.4 449.5h0M541.6 432.3h0M541.6 442.8h0M541.7 432.7h0M541.7 454.7h0M541.9 434.7h0M541.9 447.4h0M542.1 437.7h0M542.1 438.7h0M542.3 445.2h0M542.3 453.2h0M542.5 448.0h0M542.5 440.3h0M542.7 445.4h0M542.7 436.8h0M542.9 443.7h0M542.9 450.6h0M543.0 441.5h0M543.0 439.2h0M543.2 439.6h0M543.2 457.2h0M543.4 440.7h0M543.6 442.2h0M543.8 443.7h0M544.0 443.7h0M544.2 445.8h0M544.3 449.5h0M544.5 454.9h0M544.7 458.3h0M544.9 458.8h0M545.1 458.0h0M545.3 458.5h0M545.5 459.2h0M545.6 459.3h0M545.8 459.4h0M546.0 458.9h0M546.2 458.2h0M546.4 457.3h0M546.6 457.2h0M546.8 457.2h0M546.9 457.5h0M547.1 457.2h0M547.3 456.4h0M547.5 456.2h0M547.7 456.2h0M547.9 456.2h0M548.1 455.9h0M548.2 455.7h0M548.4 455.8h0M548.6 456.0h0M548.8 456.4h0M549.0 457.0h0M549.2 456.9h0M549.4 456.7h0M549.5 456.7h0M549.7 456.8h0M549.9 456.3h0M550.1 454.4h0M550.3 453.6h0M550.5 453.6h0M550.7 453.6h0M550.8 453.7h0M551.0 454.2h0M551.2 455.4h0M551.4 455.6h0M551.6 455.2h0M551.8 454.4h0M552.0 454.0h0M552.1 454.4h0M552.3 454.7h0M552.5 454.1h0M552.7 453.4h0M552.9 453.3h0M553.1 453.2h0M553.3 453.2h0M553.4 453.3h0M553.6 453.7h0M553.8 454.0h0M554.0 454.3h0M554.2 454.5h0M554.4 435.2h0M554.4 445.9h0M554.4 454.6h0M554.6 435.8h0M554.6 445.4h0M554.6 454.4h0M554.7 435.8h0M554.7 445.4h0M554.7 454.4h0M554.9 436.5h0M554.9 444.8h0M554.9 454.5h0M555.1 437.5h0M555.1 444.2h0M555.1 454.2h0M555.3 444.1h0M555.3 453.6h0M555.5 444.0h0M555.5 453.6h0M555.7 443.8h0M555.7 453.2h0M555.9 442.0h0M555.9 453.0h0M556.0 438.8h0M556.0 452.6h0M556.2 437.5h0M556.2 452.6h0M556.4 437.0h0M556.4 452.4h0M556.6 436.2h0M556.6 452.0h0M556.8 435.8h0M557.0 435.9h0M557.2 435.9h0M557.3 435.8h0M557.5 435.3h0M557.7 435.2h0M557.9 435.3h0M558.1 435.7h0M558.3 435.1h0M558.5 435.4h0M558.6 435.9h0M558.8 435.6h0M559.0 435.6h0M559.2 435.0h0M559.4 434.2h0M559.6 434.7h0M559.8 434.4h0M559.9 433.6h0M560.1 433.3h0M560.3 433.4h0M560.5 433.7h0M560.7 434.9h0M560.9 435.8h0M561.1 435.1h0M561.2 435.2h0M561.4 438.3h0M561.6 442.6h0M561.8 444.3h0M562.0 445.2h0M562.2 445.5h0M562.4 445.2h0M562.5 444.4h0M562.7 443.2h0M562.9 441.8h0M563.1 440.2h0M563.3 439.6h0M563.5 442.4h0M563.7 446.4h0M563.8 447.6h0M564.0 447.5h0M564.2 447.2h0M564.4 447.6h0M564.6 448.3h0M564.8 448.6h0M565.0 448.6h0M565.1 448.7h0M565.3 448.9h0M565.5 448.8h0M565.7 448.6h0M565.9 448.5h0M566.1 448.7h0M566.3 448.7h0M566.4 448.4h0M566.6 448.6h0M566.8 448.7h0M567.0 448.7h0M567.2 448.6h0M567.4 446.6h0M567.6 443.7h0M567.7 443.1h0M567.9 443.1h0M568.1 442.7h0M568.3 442.5h0M568.5 442.5h0M568.7 442.9h0M568.9 443.6h0M569.0 444.8h0M569.2 445.3h0M569.4 444.7h0M569.6 444.4h0M569.8 444.3h0M570.0 444.0h0M570.2 444.0h0M570.3 443.9h0M570.5 444.1h0M570.7 444.3h0M570.9 444.9h0M571.1 446.1h0M571.3 446.8h0M571.5 447.6h0M571.6 449.0h0M571.8 449.4h0M572.0 449.0h0M572.2 448.8h0M572.4 448.6h0M572.6 448.2h0M572.8 447.5h0M572.9 446.6h0M573.1 446.2h0M573.3 446.0h0M573.5 446.0h0M573.7 445.7h0M573.9 445.8h0M574.1 446.8h0M574.2 447.3h0M574.4 447.0h0M574.6 446.6h0M574.8 446.0h0M575.0 446.0h0M575.2 446.9h0M575.4 448.4h0M575.5 449.1h0M575.7 449.3h0M575.9 449.2h0M576.1 449.0h0M576.3 448.5h0M576.5 448.0h0M576.7 447.5h0M576.8 447.5h0M577.0 447.6h0M577.2 447.7h0M577.4 447.1h0M577.6 445.5h0M577.8 443.5h0M578.0 443.4h0M578.1 444.3h0M578.3 426.4h0M578.3 444.7h0M578.5 427.5h0M578.5 444.1h0M578.7 427.5h0M578.7 444.3h0M578.9 428.5h0M578.9 442.8h0M579.1 429.1h0M579.1 440.9h0M579.3 435.2h0M579.4 437.1h0M579.6 436.0h0M579.8 437.1h0M580.0 440.3h0M580.2 442.6h0M580.4 444.1h0M580.6 444.0h0M580.7 444.0h0M580.9 443.3h0M581.1 442.1h0M581.3 439.1h0M581.5 435.4h0M581.7 432.4h0M581.9 429.5h0M582.0 428.2h0M582.2 428.5h0M582.4 429.3h0M582.6 431.2h0M582.8 433.5h0M583.0 432.4h0M583.2 429.6h0M583.3 428.8h0M583.5 428.9h0M583.7 429.4h0M583.9 430.1h0M584.1 430.6h0M584.3 430.2h0M584.5 430.5h0M584.6 430.8h0M584.8 430.7h0M585.0 431.0h0M585.2 431.0h0M585.4 430.9h0M585.6 430.7h0M585.8 430.2h0M585.9 429.6h0M586.1 429.2h0M586.3 429.0h0M586.5 429.1h0M586.7 429.4h0M586.9 429.7h0M587.1 429.7h0M587.2 429.6h0M587.4 429.3h0M587.6 429.8h0M587.8 430.7h0M588.0 431.2h0M588.2 430.4h0M588.4 428.9h0M588.5 428.5h0M588.7 428.4h0M588.9 427.9h0M589.1 427.7h0M589.3 427.4h0M589.5 427.4h0M589.7 426.5h0M589.8 426.1h0M590.0 426.6h0M590.2 427.8h0M590.4 428.5h0M590.6 429.3h0M590.8 429.7h0M591.0 429.7h0M591.1 428.4h0M591.3 427.2h0M591.5 427.3h0M591.7 427.9h0M591.9 428.5h0M592.1 427.9h0M592.3 423.6h0M592.4 420.1h0M592.6 419.3h0M592.8 419.4h0M593.0 419.3h0M593.2 419.3h0M593.4 419.3h0M593.6 419.4h0M593.7 419.5h0M593.9 420.1h0M594.1 420.2h0M594.3 420.5h0M594.5 420.9h0M594.7 421.0h0M594.9 420.9h0M595.0 420.8h0M595.2 420.9h0M595.4 421.2h0M595.6 421.9h0M595.8 422.0h0M596.0 421.3h0M596.2 420.6h0M596.3 420.8h0M596.5 423.6h0M596.7 427.3h0M596.9 429.9h0M597.1 431.8h0M597.3 432.8h0M597.5 433.0h0M597.6 432.9h0M597.8 432.1h0M598.0 431.4h0M598.2 430.6h0M598.4 429.3h0M598.6 428.2h0M598.8 427.8h0M598.9 428.0h0M599.1 425.0h0M599.3 419.4h0M599.5 416.7h0M599.7 415.7h0M599.9 415.6h0M600.1 415.8h0M600.2 416.7h0M600.4 417.1h0M600.6 417.0h0M600.8 418.1h0M601.0 419.6h0M601.2 421.6h0M601.4 424.3h0M601.5 426.2h0M601.7 427.0h0M601.9 427.1h0M602.1 426.7h0M602.3 426.1h0M602.5 425.3h0M602.7 422.4h0M602.8 418.5h0M603.0 417.8h0M603.2 419.5h0M603.4 423.8h0M603.6 426.7h0M603.8 427.5h0M604.0 427.7h0M604.1 427.7h0M604.3 427.4h0M604.5 426.4h0M604.7 425.2h0M604.9 423.6h0M605.1 420.3h0M605.3 416.5h0M605.4 415.2h0M605.6 415.5h0M605.8 416.2h0M606.0 416.6h0M606.2 417.7h0M606.4 418.8h0M606.4 429.9h0M606.6 419.0h0M606.6 429.5h0M606.7 419.8h0M606.7 429.5h0M606.9 424.1h0M607.1 425.8h0M607.3 427.0h0M607.5 427.2h0M607.7 427.1h0M607.9 426.1h0M608.0 426.4h0M608.2 428.9h0M608.4 421.2h0M608.4 431.2h0M608.6 420.8h0M608.6 431.5h0M608.8 420.9h0M608.8 431.4h0M609.0 420.9h0M609.0 430.3h0M609.2 420.9h0M609.2 429.2h0M609.3 421.0h0M609.3 429.2h0M609.5 421.0h0M609.5 430.0h0M609.7 421.0h0M609.7 430.2h0M609.9 429.4h0M610.1 428.6h0M610.3 427.9h0M610.5 427.5h0M610.6 427.2h0M610.8 427.1h0M611.0 427.2h0M611.2 427.2h0M611.4 427.0h0M611.6 427.7h0M611.8 429.6h0M611.9 431.6h0M612.1 432.7h0M612.3 433.0h0M612.5 432.9h0M612.7 432.4h0M612.9 431.9h0M613.1 430.6h0M613.2 429.2h0M613.4 428.4h0M613.6 428.3h0M613.8 427.8h0M614.0 426.8h0M614.2 426.6h0M614.4 426.3h0M614.5 425.9h0M614.7 425.8h0M614.9 425.8h0M615.1 425.9h0M615.3 425.8h0M615.5 426.3h0M615.7 426.6h0M615.8 426.6h0M616.0 427.7h0M616.2 429.2h0M616.4 428.8h0M616.6 427.9h0M616.8 428.5h0M617.0 429.6h0M617.1 429.5h0M617.3 429.1h0M617.5 429.4h0M617.7 430.7h0M617.9 430.7h0M618.1 429.4h0M618.3 413.4h0M618.3 427.7h0M618.4 413.4h0M618.4 426.5h0M618.6 413.1h0M618.6 426.3h0M618.8 413.1h0M618.8 426.3h0M619.0 413.1h0M619.0 426.3h0M619.2 413.0h0M619.2 426.3h0M619.4 412.8h0M619.4 426.6h0M619.6 412.6h0M619.6 426.7h0M619.7 412.6h0M619.7 427.1h0M619.9 412.6h0M619.9 427.2h0M620.1 412.2h0M620.1 427.0h0M620.3 411.8h0M620.3 426.9h0M620.5 411.9h0M620.5 426.9h0M620.7 411.8h0M620.7 427.1h0M620.9 412.0h0M620.9 427.6h0M621.0 412.1h0M621.0 427.8h0M621.2 412.3h0M621.2 427.9h0M621.4 412.2h0M621.4 428.1h0M621.6 412.5h0M621.6 427.9h0M621.8 413.2h0M622.0 413.8h0M622.2 413.9h0M622.3 414.0h0M622.5 413.7h0M622.7 413.7h0M622.9 413.2h0M623.1 412.7h0M623.3 412.4h0M623.5 412.2h0M623.6 410.8h0M623.8 409.1h0M624.0 408.2h0M624.2 408.1h0M624.4 407.9h0M624.6 407.7h0M624.8 407.7h0M624.9 407.8h0M625.1 408.0h0M625.3 407.6h0M625.5 407.4h0M625.7 407.4h0M625.9 407.4h0M626.1 408.1h0M626.2 408.6h0M626.4 408.5h0M626.6 408.2h0M626.8 408.0h0M627.0 408.0h0M627.2 407.7h0M627.4 407.4h0M627.5 407.0h0M627.7 406.6h0M627.9 406.2h0M628.1 405.8h0M628.3 405.9h0M628.5 405.9h0M628.7 405.7h0M628.8 405.7h0M629.0 405.6h0M629.2 405.6h0M629.4 405.7h0M629.6 405.6h0M629.8 405.7h0M630.0 405.8h0M630.1 405.8h0M630.3 405.8h0M630.5 405.4h0M630.7 404.8h0M630.9 404.6h0M631.1 404.4h0M631.3 404.4h0M631.4 404.4h0M631.6 404.2h0M631.8 404.2h0M632.0 404.2h0M632.2 404.1h0M632.4 404.2h0M632.6 404.3h0M632.7 405.1h0M632.9 405.7h0M633.1 405.9h0M633.3 405.9h0M633.5 405.7h0M633.7 405.7h0M633.9 405.8h0M634.0 405.8h0M634.2 405.8h0M634.4 405.4h0M634.6 404.0h0M634.8 403.3h0M635.0 404.1h0M635.2 405.1h0M635.3 405.6h0M635.5 405.6h0M635.7 405.3h0M635.9 403.0h0M636.1 401.4h0M636.3 401.1h0M636.5 401.5h0M636.6 402.2h0M636.8 403.7h0M637.0 404.8h0M637.2 405.1h0M637.4 405.0h0M637.6 404.6h0M637.8 403.6h0M637.9 401.9h0M638.1 400.3h0M638.3 399.3h0M638.5 398.9h0M638.7 398.3h0M638.9 399.5h0M639.1 401.8h0M639.2 401.6h0M639.4 399.3h0M639.6 398.3h0M639.8 397.5h0M640.0 396.8h0M640.2 397.2h0M640.4 398.5h0M640.5 401.1h0M640.7 403.0h0M640.9 403.7h0M641.1 404.3h0M641.3 404.6h0M641.5 404.1h0M641.7 403.0h0M641.8 401.1h0M642.0 400.3h0M642.2 399.2h0M642.4 399.1h0M642.6 401.8h0M642.8 404.0h0M643.0 402.9h0M643.1 401.8h0M643.3 402.1h0M643.5 402.7h0M643.7 401.8h0M643.9 400.7h0M644.1 399.5h0M644.3 401.3h0M644.4 405.3h0M644.6 407.2h0M644.8 408.9h0M645.0 409.9h0M645.2 410.4h0M645.4 410.7h0M645.6 410.9h0M645.7 410.9h0M645.9 411.2h0M646.1 411.4h0M646.3 411.5h0M646.5 410.5h0M646.7 407.1h0M646.9 404.8h0M647.0 404.8h0M647.2 404.9h0M647.4 405.0h0M647.6 406.0h0M647.8 409.3h0M648.0 411.5h0M648.2 412.1h0M648.3 411.7h0M648.5 411.2h0M648.7 411.8h0M648.9 412.2h0M649.1 411.6h0M649.3 410.2h0M649.5 408.3h0M649.6 407.4h0M649.8 407.0h0M650.0 406.4h0M650.2 406.0h0M650.4 406.1h0M650.6 406.2h0M650.8 406.4h0M650.9 406.9h0M651.1 408.4h0M651.3 411.2h0M651.5 412.0h0M651.7 411.3h0M651.9 411.3h0M652.1 412.7h0M652.2 412.8h0M652.4 410.6h0M652.6 409.9h0M652.8 410.1h0M653.0 409.9h0M653.2 410.1h0M653.4 410.6h0M653.5 410.9h0M653.7 411.0h0M653.9 411.2h0M654.1 411.6h0M654.3 412.8h0M654.5 416.3h0M654.7 418.8h0M654.8 419.5h0M655.0 420.4h0M655.2 418.9h0M655.4 416.9h0M655.6 416.1h0M655.8 414.7h0M656.0 413.8h0M656.1 414.0h0M656.3 414.5h0M656.5 415.3h0M656.7 416.6h0M656.9 420.2h0M657.1 422.8h0M657.3 425.2h0M657.4 426.6h0M657.6 427.4h0M657.8 427.8h0M658.0 427.3h0M658.2 427.2h0M658.4 426.1h0M658.6 422.0h0M658.7 418.9h0M658.9 418.4h0M659.1 418.7h0M659.3 420.5h0M659.5 423.1h0M659.7 425.5h0M659.9 427.1h0M660.0 428.1h0M660.2 427.4h0M660.4 425.9h0M660.6 424.3h0M660.8 426.1h0M661.0 430.3h0M661.2 434.7h0M661.3 434.3h0M661.5 429.7h0M661.7 427.0h0M661.9 428.8h0M662.1 433.3h0M662.3 437.3h0M662.5 439.6h0M662.6 441.7h0M662.8 443.0h0M663.0 443.9h0M663.2 443.6h0M663.4 440.8h0M663.6 434.0h0M663.8 431.9h0M663.9 431.1h0M664.1 431.6h0M664.3 432.5h0M664.5 434.6h0M664.7 439.0h0M664.9 442.7h0M665.1 443.4h0M665.2 443.1h0M665.4 443.5h0M665.6 444.0h0M665.8 444.0h0M666.0 443.8h0M666.2 443.2h0M666.4 442.0h0M666.5 440.0h0M666.7 437.0h0M666.9 434.2h0M667.1 432.2h0M667.3 431.8h0M667.5 432.8h0M667.7 431.4h0M667.8 430.1h0M668.0 431.5h0M668.2 437.3h0M668.4 442.5h0M668.6 444.2h0M668.8 444.3h0M669.0 443.2h0M669.1 441.1h0M669.3 440.7h0M669.5 441.4h0M669.7 441.2h0M669.9 440.7h0M670.1 440.8h0M670.3 441.0h0M670.4 441.0h0M670.6 441.3h0M670.8 440.9h0M671.0 438.0h0M671.2 435.0h0M671.4 435.5h0M671.6 438.7h0M671.7 440.5h0M671.9 440.4h0M672.1 439.2h0M672.3 438.1h0M672.5 436.6h0M672.7 435.9h0M672.9 435.8h0M673.0 436.2h0M673.2 436.5h0M673.4 438.2h0M673.6 439.7h0M673.8 440.5h0M674.0 441.3h0M674.2 442.9h0M674.3 443.5h0M674.5 443.1h0M674.7 441.6h0M674.9 440.0h0M675.1 439.5h0M675.3 438.3h0M675.5 437.9h0M675.6 438.0h0M675.8 438.5h0M676.0 438.7h0M676.2 437.5h0M676.4 436.1h0M676.6 435.8h0M676.8 436.0h0M676.9 436.8h0M677.1 438.3h0M677.3 440.5h0M677.5 441.9h0M677.7 442.8h0M677.9 442.8h0M678.1 442.6h0M678.2 442.0h0M678.4 440.5h0M678.6 437.8h0M678.8 435.9h0M679.0 435.3h0M679.2 435.3h0M679.4 435.9h0M679.5 437.5h0M679.7 438.7h0M679.9 439.9h0M680.1 442.7h0M680.3 444.6h0M680.5 444.9h0M680.7 444.8h0M680.8 444.9h0M681.0 444.6h0M681.2 444.4h0M681.4 444.7h0M681.6 444.7h0M681.8 444.7h0M682.0 444.8h0M682.1 444.8h0M682.3 444.8h0M682.5 444.1h0M682.7 442.5h0M682.9 441.6h0M683.1 442.2h0M683.3 442.9h0M683.4 443.5h0M683.6 443.7h0M683.8 443.7h0M684.0 443.3h0M684.2 441.9h0M684.4 441.2h0M684.6 441.8h0M684.7 441.8h0M684.9 440.9h0M685.1 440.8h0M685.3 442.0h0M685.5 442.6h0M685.7 441.9h0M685.9 442.1h0M686.0 442.2h0M686.2 441.3h0M686.4 438.8h0M686.6 436.5h0M686.8 435.5h0M687.0 435.2h0M687.2 435.1h0M687.3 435.2h0M687.5 435.3h0M687.7 435.4h0M687.9 435.6h0M688.1 435.6h0M688.3 435.8h0M688.5 436.2h0M688.6 436.2h0M688.8 436.1h0M689.0 435.8h0M689.2 436.2h0M689.4 437.3h0M689.6 438.9h0M689.8 439.2h0M689.9 438.4h0M690.1 438.0h0M690.3 438.0h0M690.5 437.9h0M690.7 437.3h0M690.9 436.0h0M691.1 435.0h0M691.2 435.0h0M691.4 435.8h0M691.6 436.5h0M691.8 436.5h0M692.0 436.7h0M692.2 436.8h0M692.4 436.4h0M692.5 436.2h0M692.7 436.7h0M692.9 438.7h0M693.1 439.6h0M693.3 439.8h0M693.5 440.8h0M693.7 441.8h0M693.8 442.0h0M694.0 441.7h0M694.2 440.8h0M694.4 439.7h0M694.6 438.5h0M694.8 437.5h0M695.0 437.3h0M695.1 437.8h0M695.3 438.1h0M695.5 438.0h0M695.7 438.3h0M695.9 438.7h0M696.1 438.7h0M696.3 438.3h0M696.4 438.2h0M696.6 438.8h0M696.8 440.0h0M697.0 441.1h0M697.2 441.7h0M697.4 442.1h0M697.6 442.4h0M697.7 442.4h0M697.9 442.3h0M698.1 442.2h0M698.3 442.2h0M698.5 442.1h0M698.7 442.4h0M698.9 442.6h0M699.0 442.6h0M699.2 442.6h0M699.4 443.5h0M699.6 443.7h0M699.8 443.6h0M700.0 443.3h0M700.2 442.9h0M700.3 441.8h0M700.5 440.4h0M700.7 439.6h0M700.9 439.6h0M701.1 440.1h0M701.3 440.6h0M701.5 440.9h0M701.6 441.6h0M701.8 442.6h0M702.0 443.3h0M702.2 443.4h0M702.4 443.5h0M702.6 443.7h0M702.8 444.1h0M702.9 444.3h0M703.1 444.4h0M703.3 444.4h0M703.5 444.4h0M703.7 444.3h0M703.9 444.1h0M704.1 442.5h0M704.2 441.0h0M704.4 440.9h0M704.6 440.9h0M704.8 440.9h0M705.0 440.9h0M705.2 440.8h0M705.4 441.2h0M705.5 442.1h0M705.7 443.5h0M705.9 444.2h0M706.1 443.8h0M706.3 442.6h0M706.5 441.1h0M706.7 440.6h0M706.8 440.6h0M707.0 440.3h0M707.2 440.3h0M707.4 440.3h0M707.6 440.3h0M707.8 440.4h0M708.0 440.8h0M708.1 442.0h0M708.3 441.5h0M708.5 440.5h0M708.7 440.4h0M708.9 440.2h0M709.1 439.1h0M709.3 438.2h0M709.4 438.8h0M709.6 439.7h0M709.8 440.4h0M710.0 440.9h0M710.2 440.3h0M710.4 438.9h0M710.6 437.1h0M710.7 434.0h0M710.9 432.2h0M711.1 431.7h0M711.3 431.0h0M711.5 430.2h0M711.7 429.7h0M711.9 429.5h0M712.0 430.7h0M712.2 432.4h0M712.4 432.8h0M712.6 433.8h0M712.8 437.6h0M713.0 441.1h0M713.2 441.7h0M713.3 442.0h0M713.5 441.5h0M713.7 439.3h0M713.9 437.9h0M714.1 437.9h0M714.3 438.0h0M714.5 437.3h0M714.6 436.9h0M714.8 439.4h0M715.0 440.0h0M715.2 438.6h0M715.4 439.0h0M715.6 440.4h0M715.8 439.8h0M715.9 437.9h0M716.1 436.9h0M716.3 435.9h0M716.5 434.7h0M716.7 433.5h0M716.9 433.1h0M717.1 432.7h0M717.2 432.8h0M717.4 435.4h0M717.6 439.8h0M717.8 440.8h0M718.0 440.6h0M718.2 441.2h0M718.4 441.9h0M718.5 442.3h0M718.7 442.4h0M718.9 442.4h0M719.1 442.0h0M719.3 442.0h0M719.5 442.4h0M719.7 442.9h0M719.8 442.8h0M720.0 442.7h0M720.2 442.4h0M720.4 442.4h0M720.6 442.0h0M720.8 441.7h0M721.0 440.6h0M721.1 440.1h0M721.3 439.9h0M721.5 440.0h0M721.7 440.5h0M721.9 441.2h0M722.1 441.5h0M722.3 441.6h0M722.4 441.4h0M722.6 440.8h0M722.8 440.6h0M723.0 440.4h0M723.2 440.3h0M723.4 440.3h0M723.6 440.3h0M723.7 440.3h0M723.9 440.4h0M724.1 440.4h0M724.3 440.8h0M724.5 441.0h0M724.7 441.1h0M724.9 441.3h0M725.0 441.6h0M725.2 441.3h0M725.4 441.0h0M725.6 440.9h0M725.8 441.3h0M726.0 441.7h0M726.2 442.5h0M726.3 443.0h0M726.5 442.8h0M726.7 442.0h0M726.9 441.3h0M727.1 441.1h0M727.3 441.3h0M727.5 441.6h0M727.6 442.0h0M727.8 442.5h0M728.0 442.7h0M728.2 442.5h0M728.4 442.3h0M728.6 442.3h0M728.8 442.7h0M728.9 442.7h0M729.1 443.1h0M729.3 444.0h0M729.5 444.1h0M729.7 443.8h0M729.9 443.5h0M730.1 443.7h0M730.2 444.3h0M730.4 445.3h0M730.6 445.5h0M730.8 445.7h0M731.0 445.6h0M731.2 445.4h0M731.4 445.2h0M731.5 445.4h0M731.7 445.4h0M731.9 445.9h0M732.1 446.4h0M732.3 446.5h0M732.5 446.7h0M732.7 446.9h0M732.8 446.8h0M733.0 446.8h0M733.2 446.5h0M733.4 446.4h0M733.6 446.0h0M733.8 444.9h0M734.0 444.5h0M734.1 444.9h0M734.3 445.6h0M734.5 446.4h0M734.7 446.8h0M734.9 447.2h0M735.1 446.8h0M735.3 446.5h0M735.4 446.9h0M735.6 447.5h0M735.8 447.7h0M736.0 447.8h0M736.2 447.9h0M736.4 447.6h0M736.6 446.0h0M736.7 445.7h0M736.9 446.5h0M737.1 447.2h0M737.3 447.4h0M737.5 447.5h0M737.7 447.6h0M737.9 447.9h0M738.0 447.9h0M738.2 447.6h0M738.4 447.5h0M738.6 447.6h0M738.8 447.9h0M739.0 448.2h0M739.2 448.3h0M739.3 447.5h0M739.5 446.6h0M739.7 446.2h0M739.9 445.8h0M740.1 445.4h0M740.3 445.2h0M740.5 445.3h0M740.6 445.8h0M740.8 446.8h0M741.0 447.6h0M741.2 447.9h0M741.4 448.1h0M741.6 448.2h0M741.8 448.6h0M741.9 448.8h0M742.1 448.9h0M742.3 449.1h0M742.5 449.0h0M742.7 449.1h0M742.9 449.3h0M743.1 449.4h0M743.2 449.5h0M743.4 449.8h0M743.6 450.1h0M743.8 450.2h0M744.0 450.0h0M744.2 449.7h0M744.4 449.3h0M744.5 448.4h0M744.7 448.0h0M744.9 448.1h0M745.1 448.0h0M745.3 448.2h0M745.5 448.1h0M745.7 448.1h0M745.8 448.1h0M746.0 448.1h0M746.2 448.1h0M746.4 448.3h0M746.6 448.4h0M746.8 448.9h0M747.0 449.9h0M747.1 450.7h0M747.3 450.9h0M747.5 450.5h0M747.7 450.4h0M747.9 450.9h0M748.1 451.1h0M748.3 450.8h0M748.4 450.8h0M748.6 451.1h0M748.8 451.2h0M749.0 451.3h0M749.2 451.4h0M749.4 451.2h0M749.6 450.7h0M749.7 450.4h0M749.9 450.0h0M750.1 449.4h0M750.3 449.4h0M750.5 450.0h0M750.7 450.3h0M750.9 450.0h0M751.0 449.7h0M751.2 449.6h0M751.4 449.7h0M751.6 450.0h0M751.8 450.8h0M752.0 451.4h0M752.2 451.6h0M752.3 452.0h0M752.5 452.1h0M752.7 452.0h0M752.9 451.6h0M753.1 450.7h0M753.3 450.2h0M753.5 450.2h0M753.6 450.1h0M753.8 449.9h0M754.0 449.6h0M754.2 449.6h0M754.4 449.6h0M754.6 449.6h0M754.8 449.9h0M754.9 450.0h0M755.1 450.1h0M755.3 450.0h0M755.5 449.9h0M755.7 449.9h0M755.9 450.3h0M756.1 450.9h0M756.2 451.3h0M756.4 451.2h0M756.6 451.2h0M756.8 451.8h0M757.0 452.0h0M757.2 451.9h0M757.4 451.6h0M757.5 451.4h0M757.7 451.3h0M757.9 451.4h0M758.1 451.3h0M758.3 451.1h0M758.5 450.9h0M758.7 450.8h0M758.8 451.1h0M759.0 451.2h0M759.2 451.2h0M759.4 451.4h0M759.6 452.0h0M759.8 452.5h0M760.0 452.6h0M760.1 452.5h0M760.3 452.5h0M760.5 452.6h0M760.7 452.6h0M760.9 452.6h0M761.1 452.3h0M761.3 451.8h0M761.4 451.6h0M761.6 451.5h0M761.8 451.5h0M762.0 451.8h0M762.2 452.2h0M762.4 452.4h0M762.6 452.5h0M762.7 452.6h0M762.9 452.7h0M763.1 452.6h0M763.3 452.5h0M763.5 452.5h0M763.7 452.3h0M763.9 452.1h0M764.0 451.7h0M764.2 451.5h0M764.4 451.5h0M764.6 451.6h0M764.8 451.7h0M765.0 451.7h0M765.2 451.9h0M765.3 451.8h0M765.5 451.7h0M765.7 451.8h0M765.9 452.0h0M766.1 451.9h0M766.3 451.8h0M766.5 452.0h0M766.6 452.1h0M766.8 451.7h0M767.0 451.4h0M767.2 451.3h0M767.4 451.4h0M767.6 451.4h0M767.8 451.4h0M767.9 451.4h0M768.1 451.5h0M768.3 451.7h0M768.5 451.8h0M768.7 452.1h0M768.9 452.6h0M769.1 452.5h0M769.2 452.5h0M769.4 452.3h0M769.6 452.0h0M769.8 451.8h0M770.0 451.7h0M770.2 451.7h0M770.4 451.4h0M770.5 451.3h0M770.7 451.4h0M770.9 451.4h0M771.1 451.3h0M771.3 451.3h0M771.5 451.4h0M771.7 451.5h0M771.8 451.5h0M772.0 451.2h0M772.2 451.2h0M772.4 450.9h0M772.6 450.8h0M772.8 450.6h0M773.0 450.6h0M773.1 450.7h0M773.3 451.9h0M773.5 452.7h0M773.7 452.3h0M773.9 451.6h0M774.1 452.0h0M774.3 452.9h0M774.4 452.9h0M774.6 452.7h0M774.8 452.8h0M775.0 452.8h0M775.2 451.9h0M775.4 450.7h0M775.6 449.9h0M775.7 450.9h0M775.9 452.0h0M776.1 451.7h0M776.3 450.7h0M776.5 450.7h0M776.7 451.7h0M776.9 452.0h0M777.0 451.5h0M777.2 451.7h0M777.4 451.3h0M777.4 439.0h0M777.6 449.9h0M777.6 448.9h0M777.8 446.7h0M777.8 430.4h0M778.0 442.5h0M778.0 449.3h0M778.2 440.1h0M778.2 452.6h0M778.3 440.1h0M778.3 434.0h0M778.5 437.7h0M778.5 452.2h0M778.7 433.2h0M778.7 448.0h0M778.9 431.7h0M778.9 449.2h0M779.1 431.7h0M779.1 441.6h0M779.3 432.0h0M779.3 432.8h0M779.5 432.0h0M779.5 445.6h0M779.6 432.1h0M779.6 451.1h0M779.8 432.2h0M779.8 451.5h0M780.0 433.3h0M780.0 447.6h0M780.2 436.5h0M780.2 450.4h0M780.4 439.8h0M780.4 433.7h0M780.6 439.1h0M780.6 439.9h0M780.8 435.3h0M780.8 432.4h0M780.9 433.9h0M780.9 432.6h0M781.1 435.7h0M781.1 438.3h0M781.3 437.8h0M781.3 445.2h0M781.5 438.3h0M781.5 447.2h0M781.7 440.4h0M781.9 444.0h0M782.1 447.1h0M782.2 446.9h0M782.4 446.7h0M782.6 446.9h0M782.8 447.2h0M783.0 447.3h0M783.2 447.4h0M783.4 448.2h0M783.5 449.5h0M783.7 450.4h0M783.9 450.9h0M784.1 452.1h0M784.3 453.0h0M784.5 453.1h0M784.7 453.3h0M784.8 453.2h0M785.0 452.7h0M785.2 452.7h0M785.4 453.3h0M785.6 453.5h0M785.8 453.5h0M786.0 453.4h0M786.1 453.7h0M786.3 453.5h0M786.5 451.4h0M786.7 449.9h0M786.9 449.7h0M787.1 449.8h0M787.3 449.8h0M787.4 449.8h0M787.6 450.0h0M787.8 450.0h0M788.0 450.0h0M788.2 450.3h0M788.4 450.5h0M788.6 450.5h0M788.7 450.5h0M788.9 450.8h0M789.1 450.9h0M789.3 444.0h0M789.3 451.5h0M789.5 444.0h0M789.5 453.4h0M789.7 443.6h0M789.7 454.9h0M789.9 443.2h0M789.9 455.7h0M790.0 442.9h0M790.0 456.5h0M790.2 442.9h0M790.2 456.8h0M790.4 442.4h0M790.4 456.9h0M790.6 442.0h0M790.6 456.4h0M790.8 441.6h0M790.8 455.7h0M791.0 441.4h0M791.0 454.7h0M791.2 441.0h0M791.2 454.4h0M791.3 440.4h0M791.3 454.4h0M791.5 439.7h0M791.5 453.5h0M791.7 440.0h0M791.7 453.9h0M791.9 440.1h0M791.9 454.1h0M792.1 439.8h0M792.1 453.3h0M792.3 439.5h0M792.3 452.3h0M792.5 439.6h0M792.5 452.5h0M792.6 445.5h0M792.8 441.8h0M793.0 439.8h0M793.2 440.1h0M793.4 442.5h0M793.6 447.4h0M793.8 451.2h0M793.9 453.7h0M794.1 453.9h0M794.3 452.8h0M794.5 451.9h0M794.7 451.3h0M794.9 450.7h0M795.1 449.6h0M795.2 446.3h0M795.4 442.7h0M795.6 438.2h0M795.8 435.5h0M796.0 435.2h0M796.2 434.9h0M796.4 435.0h0M796.5 434.9h0M796.7 435.2h0M796.9 436.7h0M797.1 439.9h0M797.3 440.9h0M797.5 442.4h0M797.7 444.5h0M797.8 445.3h0M798.0 445.8h0M798.2 445.9h0M798.4 445.8h0M798.6 445.1h0M798.8 442.3h0M799.0 440.3h0M799.1 442.2h0M799.3 443.2h0M799.5 441.8h0M799.7 440.1h0M799.9 439.8h0M800.1 439.0h0M800.3 438.9h0M800.4 439.9h0M800.6 440.9h0M800.8 441.5h0M801.0 440.3h0M801.2 440.8h0M801.4 440.7h0M801.6 439.9h0M801.7 439.2h0M801.9 439.7h0M802.1 441.4h0M802.3 443.8h0M802.5 445.1h0M802.7 445.7h0M802.9 446.8h0M803.0 447.6h0M803.2 446.6h0M803.4 443.3h0M803.6 441.7h0M803.8 441.9h0M804.0 442.0h0M804.2 443.4h0M804.3 444.7h0M804.5 444.9h0M804.7 445.2h0M804.9 445.7h0M805.1 446.6h0M805.3 447.9h0M805.5 448.4h0M805.6 448.3h0M805.8 448.3h0M806.0 448.1h0M806.2 447.1h0M806.4 446.5h0M806.6 446.3h0M806.8 446.2h0M806.9 446.1h0M807.1 446.3h0M807.3 446.4h0M807.5 446.4h0M807.7 446.6h0M807.9 446.9h0M808.1 446.8h0M808.2 447.0h0M808.4 447.2h0M808.6 447.7h0M808.8 448.2h0M809.0 448.5h0M809.2 448.6h0M809.4 448.6h0M809.5 448.4h0M809.7 448.0h0M809.9 447.7h0M810.1 447.4h0M810.3 447.3h0M810.5 447.1h0M810.7 447.1h0M810.8 446.6h0M811.0 446.9h0M811.2 448.1h0M811.4 448.2h0M811.6 447.9h0M811.8 447.4h0M812.0 448.0h0M812.1 448.5h0M812.3 448.6h0M812.5 448.6h0M812.7 448.4h0M812.9 448.0h0M813.1 446.9h0M813.3 442.5h0M813.4 437.7h0M813.6 435.2h0M813.8 433.9h0M814.0 433.5h0M814.2 434.4h0M814.4 436.9h0M814.6 438.2h0M814.7 437.4h0M814.9 436.5h0M815.1 435.0h0M815.3 434.6h0M815.5 435.6h0M815.7 438.1h0M815.9 438.2h0M816.0 439.5h0M816.2 444.5h0M816.4 447.0h0M816.6 447.4h0M816.8 447.7h0M817.0 448.4h0M817.2 448.6h0M817.3 447.5h0M817.5 442.3h0M817.7 440.7h0M817.9 442.3h0M818.1 444.8h0M818.3 447.8h0M818.5 447.8h0M818.6 445.3h0M818.8 443.5h0M819.0 444.0h0M819.2 443.4h0M819.4 443.1h0M819.6 443.6h0M819.8 445.5h0M819.9 447.8h0M820.1 449.2h0M820.3 449.4h0M820.5 449.0h0M820.7 448.1h0M820.9 446.1h0M821.1 444.5h0M821.2 443.8h0M821.4 443.6h0M821.6 443.5h0M821.8 443.6h0M822.0 445.6h0M822.2 448.0h0M822.4 448.7h0M822.5 448.6h0M822.7 448.6h0M822.9 448.8h0M823.1 449.2h0M823.3 449.1h0M823.5 448.4h0M823.7 447.4h0M823.8 446.6h0M824.0 447.4h0M824.2 448.6h0M824.4 448.8h0M824.6 448.7h0M824.8 448.5h0M825.0 448.2h0M825.1 448.2h0M825.3 448.4h0M825.5 448.1h0M825.7 447.9h0M825.9 447.1h0M826.1 446.1h0M826.3 447.1h0M826.4 448.9h0M826.6 449.5h0M826.8 449.8h0M827.0 449.9h0M827.2 450.0h0M827.4 450.0h0M827.6 449.9h0M827.7 449.9h0M827.9 449.8h0M828.1 449.5h0M828.3 449.5h0M828.5 449.4h0M828.7 449.2h0M828.9 449.1h0M829.0 448.7h0M829.2 448.3h0M829.4 448.4h0M829.6 448.8h0M829.8 448.9h0M830.0 449.1h0M830.2 449.3h0M830.3 449.4h0M830.5 449.4h0M830.7 449.4h0M830.9 449.1h0M831.1 449.0h0M831.3 448.8h0M831.5 448.0h0M831.6 447.4h0M831.8 447.0h0M832.0 446.8h0M832.2 446.7h0M832.4 446.6h0M832.6 446.8h0M832.8 447.4h0M832.9 448.2h0M833.1 448.6h0M833.3 448.5h0M833.5 448.6h0M833.7 448.4h0M833.9 447.8h0M834.1 446.8h0M834.2 446.4h0M834.4 446.3h0M834.6 446.8h0M834.8 447.2h0M835.0 446.7h0M835.2 446.1h0M835.4 445.8h0M835.5 445.2h0M835.7 445.1h0M835.9 445.1h0M836.1 444.8h0M836.3 444.8h0M836.5 444.8h0M836.7 444.9h0M836.8 444.9h0M837.0 444.8h0M837.2 444.8h0M837.4 445.0h0M837.6 445.3h0M837.8 445.3h0M838.0 445.3h0M838.1 445.6h0M838.3 445.7h0M838.5 446.0h0M838.7 446.1h0M838.9 446.4h0M839.1 446.4h0M839.3 446.9h0M839.4 447.8h0M839.6 448.2h0M839.8 448.1h0M840.0 447.6h0M840.2 447.7h0M840.4 447.8h0M840.6 448.1h0M840.7 447.9h0M840.9 447.7h0M841.1 447.9h0M841.3 448.0h0M841.5 448.2h0M841.7 448.8h0M841.9 449.6h0M842.0 449.9h0M842.2 449.9h0M842.4 449.8h0M842.6 449.5h0M842.8 449.1h0M843.0 448.8h0M843.2 449.0h0M843.3 449.2h0M843.5 449.2h0M843.7 449.2h0M843.9 449.3h0M844.1 449.4h0M844.3 449.2h0M844.5 449.1h0M844.6 449.1h0M844.8 449.0h0M845.0 448.9h0M845.2 448.9h0M845.4 449.1h0M845.6 449.4h0M845.8 449.6h0M845.9 449.8h0M846.1 449.9h0M846.3 449.9h0M846.5 449.9h0M846.7 449.9h0M846.9 449.9h0M847.1 449.9h0M847.2 449.9h0M847.4 449.6h0M847.6 449.2h0M847.8 449.0h0M848.0 448.9h0M848.2 448.9h0M848.4 449.0h0M848.5 449.3h0M848.7 449.6h0M848.9 449.8h0M849.1 450.2h0M849.3 450.2h0M849.5 450.1h0M849.7 449.6h0M849.8 449.4h0M850.0 449.4h0M850.2 449.5h0M850.4 450.1h0M850.6 450.4h0M850.8 450.4h0M851.0 450.2h0M851.1 450.0h0M851.3 449.7h0M851.5 449.1h0M851.7 448.8h0M851.9 448.8h0M852.1 448.8h0M852.3 448.8h0M852.4 448.8h0M852.6 448.8h0M852.8 448.8h0M853.0 448.8h0M853.2 448.9h0M853.4 448.9h0M853.6 449.0h0M853.7 449.0h0M853.9 449.2h0M854.1 449.3h0M854.3 449.4h0M854.5 449.3h0M854.7 449.3h0M854.9 449.3h0M855.0 449.7h0M855.2 450.6h0M855.4 451.4h0M855.6 451.6h0M855.8 451.7h0M856.0 451.7h0M856.2 451.9h0M856.3 451.9h0M856.5 451.8h0M856.7 451.7h0M856.9 451.4h0M857.1 450.8h0M857.3 450.0h0M857.5 449.5h0M857.6 449.6h0M857.8 449.6h0M858.0 450.1h0M858.2 450.7h0M858.4 451.3h0M858.6 451.5h0M858.8 451.7h0M858.9 451.8h0M859.1 451.8h0M859.3 452.2h0M859.5 452.6h0M859.7 452.7h0M859.9 452.6h0M860.1 452.3h0M860.2 451.3h0M860.4 451.0h0M860.6 451.1h0M860.8 451.1h0M861.0 451.1h0M861.2 451.4h0M861.4 451.7h0M861.5 451.9h0M861.7 452.1h0M861.9 452.2h0M862.1 452.2h0M862.3 452.4h0M862.5 452.6h0M862.7 452.7h0M862.8 452.7h0M863.0 452.8h0M863.2 452.8h0M863.4 452.8h0M863.6 452.9h0M863.8 452.9h0M864.0 452.9h0M864.1 452.9h0M864.3 452.8h0M864.5 452.9h0M864.7 452.9h0M864.9 453.1h0M865.1 453.2h0M865.3 453.1h0M865.4 453.0h0M865.6 453.4h0M865.8 454.3h0M866.0 454.6h0M866.2 454.6h0M866.4 454.9h0M866.6 454.9h0M866.7 454.9h0M866.9 455.2h0M867.1 455.2h0M867.3 455.2h0M867.5 455.1h0M867.7 455.0h0M867.9 455.1h0M868.0 455.0h0M868.2 455.0h0M868.4 455.2h0M868.6 454.7h0M868.8 454.0h0M869.0 453.6h0M869.2 453.5h0M869.3 453.7h0M869.5 454.0h0M869.7 454.3h0M869.9 454.9h0M870.1 455.2h0M870.3 455.3h0M870.5 454.9h0M870.6 454.4h0M870.8 454.3h0M871.0 454.9h0M871.2 454.5h0M871.4 453.1h0M871.6 452.5h0M871.8 452.6h0M871.9 452.9h0M872.1 452.4h0M872.3 452.6h0M872.5 454.2h0M872.7 455.4h0M872.9 455.9h0M873.1 456.3h0M873.2 456.5h0M873.4 456.6h0M873.6 456.7h0M873.8 456.6h0M874.0 456.4h0M874.2 455.9h0M874.4 454.9h0M874.5 453.4h0M874.7 452.9h0M874.9 452.8h0M875.1 452.2h0M875.3 451.7h0M875.5 451.4h0M875.7 451.4h0M875.8 451.3h0M876.0 451.3h0M876.2 452.0h0M876.4 454.5h0M876.6 455.9h0M876.8 456.1h0M877.0 456.0h0M877.1 455.7h0M877.3 455.3h0M877.5 454.4h0M877.7 452.2h0M877.9 451.0h0M878.1 451.4h0M878.3 452.3h0M878.4 454.0h0M878.6 455.0h0M878.8 454.8h0M879.0 454.2h0M879.2 454.3h0M879.4 453.6h0M879.6 449.7h0M879.7 445.4h0M879.9 444.5h0M880.1 444.4h0M880.3 444.1h0M880.5 444.1h0M880.7 444.1h0M880.9 443.9h0M881.0 444.2h0M881.2 446.4h0M881.4 450.4h0M881.6 452.1h0M881.8 452.4h0M882.0 452.3h0M882.2 452.4h0M882.3 452.9h0M882.5 450.9h0M882.7 449.1h0M882.9 449.1h0M883.1 449.9h0M883.3 451.0h0M883.5 452.6h0M883.6 454.3h0M883.8 453.8h0M884.0 452.8h0M884.2 453.1h0M884.4 452.3h0M884.6 450.5h0M884.8 449.8h0M884.9 450.2h0M885.1 452.1h0M885.3 452.6h0M885.5 451.9h0M885.7 451.3h0M885.9 451.6h0M886.1 452.0h0M886.2 453.0h0M886.4 453.5h0M886.6 453.6h0M886.8 453.6h0M887.0 453.4h0M887.2 452.6h0M887.4 452.0h0M887.5 451.9h0M887.7 452.0h0M887.9 452.4h0M887.9 478.1h0M888.1 452.6h0M888.1 478.1h0M888.3 453.3h0M888.3 478.0h0M888.5 453.6h0M888.5 478.0h0M888.7 452.6h0M888.7 477.8h0M888.8 451.9h0M888.8 477.5h0M889.0 452.0h0M889.0 477.4h0M889.2 453.1h0M889.2 477.8h0M889.4 453.9h0M889.4 478.0h0M889.6 453.8h0M889.6 478.0h0M889.8 452.7h0M889.8 477.1h0M890.0 452.0h0M890.0 476.6h0M890.1 451.9h0M890.1 476.1h0M890.3 452.0h0M890.3 475.9h0M890.5 452.0h0M890.5 475.5h0M890.7 452.0h0M890.7 475.4h0M890.9 475.2h0M891.1 475.1h0M891.3 474.6h0M891.4 474.4h0M891.6 474.2h0M891.8 474.0h0M892.0 473.9h0M892.2 473.6h0M892.4 473.5h0M892.6 473.1h0M892.7 473.1h0M892.9 472.8h0M893.1 472.6h0M893.3 472.7h0M893.5 473.1h0M893.7 473.6h0M893.9 473.6h0M894.0 473.3h0M894.2 473.3h0M894.4 473.7h0M894.6 475.1h0M894.8 476.0h0M895.0 475.9h0M895.2 476.2h0M895.3 476.4h0M895.5 476.2h0M895.7 475.5h0M895.9 473.3h0M896.1 471.2h0M896.3 470.8h0M896.5 470.7h0M896.6 470.5h0M896.8 470.5h0M897.0 470.2h0M897.2 470.0h0M897.4 469.9h0M897.6 469.7h0M897.8 469.5h0M897.9 469.9h0M898.1 470.8h0M898.3 470.8h0M898.5 470.0h0M898.7 469.5h0M898.9 468.9h0M899.1 468.5h0M899.2 468.3h0M899.4 468.0h0M899.6 468.0h0M899.8 468.0h0M900.0 468.0h0M900.2 468.0h0M900.4 467.9h0M900.5 468.7h0M900.7 470.8h0M900.9 471.7h0M901.1 471.9h0M901.3 471.9h0M901.5 471.6h0M901.7 471.4h0M901.8 471.4h0M902.0 471.5h0M902.2 471.5h0M902.4 471.4h0M902.6 471.1h0M902.8 471.2h0M903.0 471.6h0M903.1 471.7h0M903.3 471.5h0M903.5 471.5h0M903.7 471.3h0M903.9 471.0h0M904.1 470.6h0M904.3 470.4h0M904.4 470.0h0M904.6 469.3h0M904.8 469.3h0M905.0 470.5h0M905.2 471.0h0M905.4 470.9h0M905.6 470.9h0M905.7 470.9h0M905.9 470.6h0M906.1 469.7h0M906.3 468.3h0M906.5 467.1h0M906.7 467.0h0M906.9 467.2h0M907.0 468.5h0M907.2 470.0h0M907.4 470.3h0M907.6 470.4h0M907.8 470.4h0M908.0 470.4h0M908.2 470.4h0M908.3 470.3h0M908.5 470.0h0M908.7 468.7h0M908.9 467.3h0M909.1 467.0h0M909.3 467.1h0M909.5 467.5h0M909.6 468.2h0M909.8 468.3h0M910.0 468.2h0M910.2 468.2h0M910.4 468.4h0M910.6 468.5h0M910.8 468.4h0M910.9 468.4h0M911.1 469.0h0M911.3 469.5h0M911.5 469.9h0M911.7 470.2h0M911.9 470.2h0M912.1 470.0h0M912.2 469.1h0M912.4 468.5h0M912.6 468.6h0M912.8 468.4h0M913.0 467.9h0M913.2 467.7h0M913.4 467.6h0M913.5 467.5h0M913.7 467.4h0M913.9 467.4h0M914.1 467.5h0M914.3 467.9h0M914.5 468.9h0M914.7 470.0h0M914.8 470.3h0M915.0 470.3h0M915.2 470.2h0M915.4 470.0h0M915.6 469.9h0M915.8 470.2h0M916.0 470.2h0M916.1 469.9h0M916.3 469.9h0M916.5 470.1h0M916.7 470.2h0M916.9 470.2h0M917.1 470.3h0M917.3 470.2h0M917.4 470.0h0M917.6 469.5h0M917.8 468.7h0M918.0 467.9h0M918.2 467.6h0M918.4 467.7h0M918.6 468.4h0M918.7 469.1h0M918.9 469.3h0M919.1 469.3h0M919.3 469.3h0M919.5 469.2h0M919.7 468.5h0M919.9 467.7h0M920.0 467.7h0M920.2 467.9h0M920.4 468.2h0M920.6 468.4h0M920.8 468.7h0M921.0 469.3h0M921.2 470.3h0M921.3 470.8h0M921.5 470.9h0M921.7 470.9h0M921.9 470.9h0M922.1 470.9h0M922.3 470.7h0M922.5 470.3h0M922.6 469.4h0M922.8 468.0h0M923.0 467.1h0M923.2 467.0h0M923.4 467.0h0M923.6 467.1h0M923.8 467.2h0M923.9 467.1h0M924.1 467.2h0M924.3 467.2h0M924.5 467.2h0M924.7 467.2h0M924.9 467.4h0M925.1 468.1h0M925.2 468.7h0M925.4 469.0h0M925.6 469.5h0M925.8 469.8h0M926.0 469.9h0M926.2 469.6h0M926.4 469.3h0M926.5 468.3h0M926.7 467.5h0M926.9 467.3h0M927.1 467.1h0M927.3 466.8h0M927.5 466.6h0M927.7 466.3h0M927.8 466.3h0M928.0 466.4h0M928.2 466.8h0M928.4 468.1h0M928.6 468.7h0M928.8 468.8h0M929.0 468.8h0M929.1 468.4h0M929.3 468.3h0M929.5 467.7h0M929.7 467.5h0M929.9 467.8h0M930.1 468.0h0M930.3 468.0h0M930.4 468.1h0M930.6 467.9h0M930.8 467.5h0M931.0 466.8h0M931.2 466.5h0M931.4 466.2h0M931.6 466.4h0M931.7 466.6h0M931.9 468.4h0" fill="none" stroke="#000" stroke-width="5.56" stroke-linecap="round"/>
<g stroke="#000" stroke-linecap="round" stroke-linejoin="round"><polyline points="198.7,224.0 202.7,233.3 206.0,240.0 207.3,256.0" fill="none" stroke-width="6"/><polyline points="507.3,401.4 508.5,406.7 509.7,412.5 513.2,418.3 517.8,418.3 522.5,420.7 526.0,423.0 530.7,425.3 537.7,426.5 540.0,430.0" fill="none" stroke-width="7.5"/><polyline points="540.0,430.0 542.0,442.0 544.0,452.0 545.0,461.0" fill="none" stroke-width="6"/><polyline points="929.2,457.6 932.8,458.8 933.0,464.0" fill="none" stroke-width="6"/><polyline points="668.5,416.0 670.0,422.0 671.5,428.0" fill="none" stroke-width="6"/><polyline points="582.5,399.5 583.0,405.0 584.0,411.0 584.0,418.0 583.0,424.0" fill="none" stroke-width="6"/><polyline points="592.5,401.0 593.0,406.0 594.0,413.0 596.0,414.0" fill="none" stroke-width="6"/></g>
<g fill="#000"><circle cx="122.5" cy="39.3" r="2.78"/><circle cx="122.5" cy="80.3" r="2.78"/><circle cx="123.5" cy="88.3" r="2.78"/><circle cx="122.5" cy="98.3" r="2.78"/><circle cx="124" cy="118" r="2.78"/><circle cx="121" cy="121.5" r="2.78"/><circle cx="124.5" cy="122.5" r="2.78"/><circle cx="121.5" cy="134.5" r="2.78"/><circle cx="125.5" cy="146" r="2.78"/><circle cx="121" cy="152.5" r="2.78"/><circle cx="126.5" cy="152.5" r="2.78"/><circle cx="122" cy="155" r="2.78"/><circle cx="127" cy="163" r="2.78"/><circle cx="128" cy="167" r="2.78"/><circle cx="127" cy="172" r="2.78"/><circle cx="126" cy="177" r="2.78"/><circle cx="135" cy="176" r="2.78"/><circle cx="136" cy="181" r="2.78"/><circle cx="128" cy="186" r="2.78"/><circle cx="136" cy="188" r="2.78"/><circle cx="135" cy="192" r="2.78"/><circle cx="130" cy="193" r="2.78"/><circle cx="136" cy="197" r="2.78"/><circle cx="129" cy="204" r="2.78"/><circle cx="134" cy="204" r="2.78"/><circle cx="136" cy="214" r="2.78"/><circle cx="138" cy="214" r="2.78"/><circle cx="132" cy="220" r="2.78"/><circle cx="132" cy="224" r="2.78"/><circle cx="131" cy="229" r="2.78"/><circle cx="129" cy="237" r="2.78"/><circle cx="139" cy="240" r="2.78"/><circle cx="140" cy="242" r="2.78"/><circle cx="131" cy="246" r="2.78"/><circle cx="139" cy="250" r="2.78"/><circle cx="130" cy="252" r="2.78"/><circle cx="141" cy="252" r="2.78"/><circle cx="137" cy="260" r="2.78"/><circle cx="141" cy="258" r="2.78"/><circle cx="141" cy="264" r="2.78"/><circle cx="138" cy="268" r="2.78"/><circle cx="139" cy="274" r="2.78"/><circle cx="130" cy="275" r="2.78"/><circle cx="143" cy="278" r="2.78"/><circle cx="143" cy="279" r="2.78"/><circle cx="143" cy="292" r="2.78"/><circle cx="145" cy="296" r="2.78"/><circle cx="142" cy="302" r="2.78"/><circle cx="146" cy="299" r="2.78"/><circle cx="148" cy="321" r="2.78"/><circle cx="147" cy="328" r="2.78"/><circle cx="149" cy="358" r="2.78"/><circle cx="149" cy="360" r="2.78"/><circle cx="171" cy="299" r="2.78"/><circle cx="171" cy="302" r="2.78"/><circle cx="174" cy="272" r="2.78"/><circle cx="172.7" cy="200" r="2.78"/><circle cx="172.7" cy="217.3" r="2.78"/><circle cx="174" cy="224.7" r="2.78"/><circle cx="173.3" cy="233.3" r="2.78"/><circle cx="190.7" cy="240" r="2.78"/><circle cx="190.7" cy="245.3" r="2.78"/><circle cx="190" cy="253.3" r="2.78"/><circle cx="174" cy="271.3" r="2.78"/><circle cx="178.7" cy="268.7" r="2.78"/><circle cx="234.7" cy="268.3" r="2.78"/><circle cx="234.7" cy="276.5" r="2.78"/><circle cx="235" cy="276" r="2.78"/><circle cx="249" cy="303" r="2.78"/><circle cx="249" cy="308" r="2.78"/><circle cx="249" cy="316" r="2.78"/><circle cx="250" cy="324" r="2.78"/><circle cx="251" cy="330" r="2.78"/><circle cx="250" cy="336" r="2.78"/><circle cx="250" cy="344" r="2.78"/><circle cx="874.6" cy="491.2" r="2.78"/><circle cx="442.1" cy="324" r="2.78"/><circle cx="478.3" cy="340.9" r="2.78"/><circle cx="506.2" cy="387.4" r="2.78"/><circle cx="619.7001499250375" cy="411.4842578710645" r="2.78"/><circle cx="687.2113943028486" cy="427.976011994003" r="2.78"/><circle cx="779.3333333333334" cy="418.0" r="2.78"/><circle cx="795.3333333333334" cy="413.3333333333333" r="2.78"/><circle cx="794.6666666666666" cy="426.0" r="2.78"/><circle cx="792.0" cy="458.6666666666667" r="2.78"/><circle cx="842.0" cy="457.3333333333333" r="2.78"/><circle cx="880.6666666666666" cy="440.0" r="2.78"/><circle cx="170" cy="332" r="2.78"/><circle cx="149" cy="355" r="2.78"/><circle cx="149.5" cy="360.5" r="2.78"/><circle cx="249.585764294049" cy="302.83547257876313" r="2.78"/><circle cx="249.00233372228706" cy="308.66977829638273" r="2.78"/><circle cx="249.585764294049" cy="315.67094515752626" r="2.78"/><circle cx="250.16919486581097" cy="324.42240373395566" r="2.78"/><circle cx="250.16919486581097" cy="332.00700116686113" r="2.78"/><circle cx="249.585764294049" cy="335.5075845974329" r="2.78"/><circle cx="250.16919486581097" cy="343.67561260210033" r="2.78"/><circle cx="252.5029171528588" cy="336.6744457409568" r="2.78"/></g>
<polyline points="120.0,126.0 125.0,160.0 130.0,200.0 135.0,226.0 140.0,278.0 142.0,295.0 144.3,311.3 149.0,316.0 152.5,313.0 155.4,315.4 158.3,314.3 161.8,313.7 167.0,319.0 170.0,306.7 172.3,295.0 174.0,280.0 178.7,262.7 184.0,242.7 186.7,234.7 190.0,230.7 192.7,219.3 194.7,221.3 197.3,229.3 201.3,226.7 205.3,230.7 206.7,233.3 208.0,236.5 217.0,247.7 220.7,249.2 226.0,257.5 232.0,268.0 236.5,277.0 241.0,279.2 245.5,289.0 245.5,290.0 249.0,301.7 252.5,307.5 255.4,316.8 257.8,328.5 261.8,333.2 265.9,348.3 270.0,347.2 274.7,349.5 279.3,351.8 280.0,352.4 284.8,356.0 292.0,351.2 298.0,350.0 304.0,352.4 313.6,350.0 320.8,354.8 326.8,366.8 329.2,363.2 332.8,370.4 337.6,363.2 342.4,366.8 352.0,372.8 356.8,368.0 362.8,366.8 366.4,365.6 372.4,369.2 377.2,363.8 383.2,369.2 389.2,370.4 394.0,377.6 397.6,371.6 400.5,374.3 404.0,364.3 408.7,363.2 413.3,360.3 419.2,359.7 419.3,361.3 425.2,350.8 429.8,347.3 433.3,341.5 439.2,339.2 445.0,333.9 449.7,338.0 454.3,345.0 457.8,346.2 461.3,356.7 464.8,356.7 468.3,361.3 473.0,359.6 477.7,367.2 482.3,374.2 485.8,380.0 487.5,382.2 491.0,381.6 496.8,387.4 500.3,388.6 505.0,395.0 508.5,398.5 512.0,397.9 516.7,403.2 520.0,412.2 524.5,417.5 529.0,431.7 533.5,432.5 538.0,440.0 541.0,437.0 545.5,441.5 550.0,446.0 556.0,453.5 560.5,446.0 566.5,441.5 571.0,437.0 575.5,435.5 580.0,427.2 584.5,425.0 589.0,429.5 593.5,425.0 597.2,432.5 601.0,426.5 604.7,429.5 608.5,420.5 614.5,419.0 616.0,419.0 622.0,418.2 628.0,408.5 632.5,411.5 637.7,409.2 643.0,413.7 643.0,414.0 648.0,408.0 653.0,413.0 658.0,419.0 661.0,419.5 666.0,430.0 669.0,429.0 672.0,436.0 676.0,430.0 682.0,435.0 687.0,437.0 691.0,442.0 695.0,437.0 700.0,440.0 704.0,438.0 710.0,440.0 716.0,433.0 720.0,435.0 725.0,440.0 729.0,439.0 733.0,449.0 736.0,446.0 740.0,451.0 744.0,444.0 749.3,446.0 754.7,447.3 758.7,450.0 764.0,444.0 769.3,442.7 773.3,440.7 778.7,442.7 784.0,435.3 789.3,438.7 793.3,443.3 798.7,445.3 800.0,453.3 803.3,450.7 807.3,456.7 811.3,450.7 816.7,452.7 822.0,453.3 826.0,457.3 831.3,452.0 836.7,452.7 840.7,450.0 846.0,452.7 851.3,446.7 856.7,448.0 862.0,453.3 867.3,462.7 870.0,464.0 875.3,466.7 880.7,461.3 886.0,463.3 888.4,464.8 894.4,469.0 899.2,463.0 904.0,462.4 908.8,460.6 913.6,463.0 919.6,457.0 924.4,460.6 929.2,465.4 932.8,463.6" fill="none" stroke="#0072B2" stroke-width="2.08" stroke-linejoin="round"/>
<polygon points="932.0,467.0 935.0,471.5 936.5,473.5 939.0,471.0 944.4,477.0 944.4,499.3 943.0,500.2 940.5,498.0 938.5,495.0 936.0,497.2 932.3,491.0" fill="#0072B2" stroke="#0072B2" stroke-width="0.6" stroke-linejoin="round"/>
<g fill="#ff0000"><circle cx="935.5" cy="466" r="3.6"/><circle cx="938" cy="465" r="2.8"/><circle cx="938.5" cy="468" r="3"/><circle cx="935.5" cy="468.5" r="2.8"/></g>
<g fill="#ff0000" fill-opacity="0.55" stroke="#ff0000" stroke-opacity="0.8" stroke-width="0.9"><circle cx="938.5" cy="458.3" r="2.3"/><circle cx="938.5" cy="462" r="2.3"/></g>
<rect x="79.5" y="15.5" width="906.0" height="527.0" fill="none" stroke="#000" stroke-width="1.11" stroke-linejoin="miter"/>
<g stroke="#000" stroke-width="1.11"><line x1="123.5" y1="542.5" x2="123.5" y2="547.36"/><line x1="259.5" y1="542.5" x2="259.5" y2="547.36"/><line x1="394.5" y1="542.5" x2="394.5" y2="547.36"/><line x1="530.5" y1="542.5" x2="530.5" y2="547.36"/><line x1="665.5" y1="542.5" x2="665.5" y2="547.36"/><line x1="801.5" y1="542.5" x2="801.5" y2="547.36"/><line x1="937.5" y1="542.5" x2="937.5" y2="547.36"/><line x1="74.64" y1="491.50" x2="79.5" y2="491.50"/><line x1="74.64" y1="407.50" x2="79.5" y2="407.50"/><line x1="74.64" y1="323.50" x2="79.5" y2="323.50"/><line x1="74.64" y1="240.50" x2="79.5" y2="240.50"/><line x1="74.64" y1="156.50" x2="79.5" y2="156.50"/><line x1="74.64" y1="72.50" x2="79.5" y2="72.50"/></g>
<g font-size="14.4" fill="#000"><text x="122.9" y="561.8" text-anchor="middle" transform="translate(123.5 0) scale(1.07 1) translate(-123.5 0)">2014</text><text x="258.9" y="561.8" text-anchor="middle" transform="translate(259.5 0) scale(1.07 1) translate(-259.5 0)">2016</text><text x="393.9" y="561.8" text-anchor="middle" transform="translate(394.5 0) scale(1.07 1) translate(-394.5 0)">2018</text><text x="529.9" y="561.8" text-anchor="middle" transform="translate(530.5 0) scale(1.07 1) translate(-530.5 0)">2020</text><text x="664.9" y="561.8" text-anchor="middle" transform="translate(665.5 0) scale(1.07 1) translate(-665.5 0)">2022</text><text x="800.9" y="561.8" text-anchor="middle" transform="translate(801.5 0) scale(1.07 1) translate(-801.5 0)">2024</text><text x="936.9" y="561.8" text-anchor="middle" transform="translate(937.5 0) scale(1.07 1) translate(-937.5 0)">2026</text><text x="68.9" y="496.70" text-anchor="end" transform="translate(68.9 0) scale(1.09 1) translate(-68.9 0)">0</text><text x="68.9" y="412.70" text-anchor="end" transform="translate(68.9 0) scale(1.09 1) translate(-68.9 0)">1000</text><text x="68.9" y="328.70" text-anchor="end" transform="translate(68.9 0) scale(1.09 1) translate(-68.9 0)">2000</text><text x="68.9" y="245.70" text-anchor="end" transform="translate(68.9 0) scale(1.09 1) translate(-68.9 0)">3000</text><text x="68.9" y="161.70" text-anchor="end" transform="translate(68.9 0) scale(1.09 1) translate(-68.9 0)">4000</text><text x="68.9" y="77.70" text-anchor="end" transform="translate(68.9 0) scale(1.09 1) translate(-68.9 0)">5000</text><text x="532.5" y="582.6" text-anchor="middle">ds</text><text x="0" y="0" text-anchor="middle" transform="translate(25.2 278.8) rotate(-90)">y</text></g>
</svg></body></html>
